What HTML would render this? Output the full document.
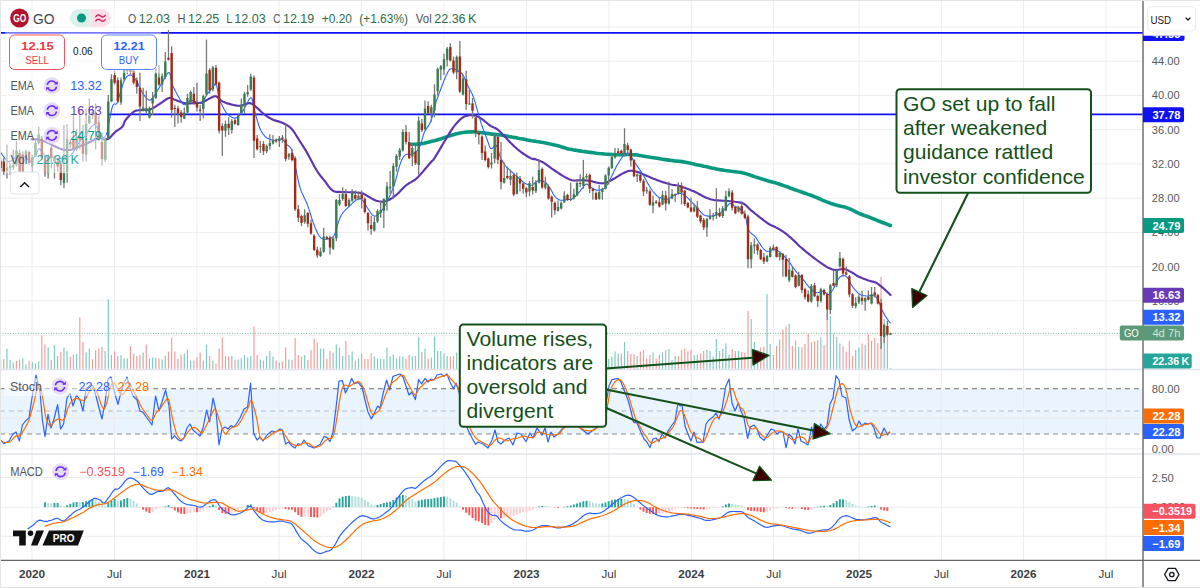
<!DOCTYPE html>
<html><head><meta charset="utf-8"><title>GO chart</title>
<style>html,body{margin:0;padding:0;background:#fff;}body{width:1200px;height:588px;overflow:hidden;font-family:"Liberation Sans",sans-serif;}svg{display:block}</style>
</head><body>
<svg width="1200" height="588" viewBox="0 0 1200 588" font-family="Liberation Sans, sans-serif">
<rect width="1200" height="588" fill="#ffffff"/>
<rect x="0" y="388.6" width="1143.0" height="45.39999999999998" fill="#e9f4fe"/>
<path d="M32.0 0V560.3 M114.4 0V560.3 M196.9 0V560.3 M279.1 0V560.3 M361.4 0V560.3 M443.9 0V560.3 M526.5 0V560.3 M609.0 0V560.3 M691.3 0V560.3 M773.7 0V560.3 M859.1 0V560.3 M941.4 0V560.3 M1023.6 0V560.3 M1106.0 0V560.3 M0 27.0H1143.0 M0 61.2H1143.0 M0 95.5H1143.0 M0 129.7H1143.0 M0 163.9H1143.0 M0 198.2H1143.0 M0 232.4H1143.0 M0 266.7H1143.0 M0 300.9H1143.0 M0 335.2H1143.0 M0 418.3H1143.0 M0 448.8H1143.0 M0 477.5H1143.0 M0 507.2H1143.0 M0 536.3H1143.0" stroke="#ececec" stroke-width="1" fill="none"/>
<path d="M0 369.5H1200M0 454H1200" stroke="#e0e3eb" stroke-width="1.6" fill="none"/>
<path d="M0 388.6H1143.0M0 434H1143.0" stroke="#8a8a8a" stroke-width="1.1" stroke-dasharray="5 4" fill="none"/>
<path d="M0 411H1143.0" stroke="#b5bcc6" stroke-width="1" stroke-dasharray="5 4" fill="none"/>
<path d="M0.62 368.8V359.0 M6.96 368.8V348.4 M10.12 368.8V360.0 M13.29 368.8V362.4 M22.79 368.8V358.4 M25.96 368.8V364.4 M32.29 368.8V362.0 M35.46 368.8V363.4 M38.63 368.8V361.4 M48.13 368.8V347.6 M54.46 368.8V345.2 M57.63 368.8V356.0 M63.96 368.8V347.6 M67.13 368.8V351.0 M76.63 368.8V354.0 M86.13 368.8V352.6 M89.30 368.8V348.4 M105.13 368.8V351.0 M108.30 368.8V299.2 M111.47 368.8V355.0 M120.97 368.8V355.0 M124.13 368.8V358.4 M127.30 368.8V358.4 M143.14 368.8V352.4 M149.47 368.8V358.4 M152.64 368.8V357.4 M155.81 368.8V358.0 M162.14 368.8V359.4 M165.31 368.8V356.0 M184.31 368.8V353.4 M187.47 368.8V349.4 M190.64 368.8V360.6 M203.31 368.8V360.6 M206.48 368.8V344.4 M212.81 368.8V360.6 M225.48 368.8V356.0 M231.81 368.8V356.0 M238.15 368.8V359.4 M241.31 368.8V358.4 M244.48 368.8V355.0 M247.65 368.8V357.4 M250.81 368.8V356.0 M260.32 368.8V359.4 M266.65 368.8V356.0 M269.82 368.8V351.0 M272.98 368.8V356.6 M279.32 368.8V362.4 M288.82 368.8V359.4 M304.65 368.8V355.0 M320.49 368.8V348.4 M323.66 368.8V348.4 M333.16 368.8V352.6 M336.32 368.8V344.4 M339.49 368.8V347.6 M342.66 368.8V356.0 M348.99 368.8V355.0 M352.16 368.8V351.6 M358.49 368.8V358.4 M374.33 368.8V356.6 M377.50 368.8V358.4 M380.66 368.8V359.0 M383.83 368.8V359.0 M387.00 368.8V347.6 M390.16 368.8V356.0 M393.33 368.8V354.4 M396.50 368.8V358.4 M399.66 368.8V356.6 M402.83 368.8V356.6 M412.33 368.8V356.6 M418.67 368.8V337.2 M425.00 368.8V348.4 M431.33 368.8V357.4 M434.50 368.8V336.4 M437.67 368.8V351.0 M440.83 368.8V351.0 M444.00 368.8V353.4 M447.17 368.8V356.0 M456.67 368.8V352.6 M463.00 368.8V355.4 M469.34 368.8V354.8 M491.51 368.8V350.8 M494.67 368.8V356.1 M504.18 368.8V354.4 M510.51 368.8V354.5 M516.84 368.8V355.6 M529.51 368.8V353.2 M535.84 368.8V357.8 M539.01 368.8V360.5 M545.35 368.8V356.1 M558.01 368.8V351.6 M561.18 368.8V356.9 M564.35 368.8V352.8 M570.68 368.8V351.4 M573.85 368.8V352.0 M577.02 368.8V359.8 M583.35 368.8V358.6 M586.52 368.8V351.1 M599.18 368.8V355.7 M602.35 368.8V356.9 M605.52 368.8V357.3 M608.69 368.8V359.0 M611.85 368.8V356.6 M615.02 368.8V351.6 M618.19 368.8V353.4 M624.52 368.8V342.0 M637.19 368.8V356.0 M653.02 368.8V352.6 M662.52 368.8V352.6 M668.86 368.8V349.0 M672.03 368.8V360.0 M675.19 368.8V356.0 M694.19 368.8V355.0 M697.36 368.8V354.4 M706.86 368.8V350.0 M710.03 368.8V351.0 M713.20 368.8V356.6 M716.36 368.8V339.0 M722.70 368.8V349.0 M725.86 368.8V343.4 M729.03 368.8V355.0 M738.53 368.8V351.0 M751.20 368.8V319.0 M754.37 368.8V342.0 M757.53 368.8V350.0 M767.04 368.8V294.0 M770.20 368.8V344.0 M779.70 368.8V339.4 M789.20 368.8V324.0 M798.71 368.8V346.8 M811.37 368.8V342.0 M820.87 368.8V337.2 M830.38 368.8V316.0 M836.71 368.8V337.2 M839.88 368.8V343.4 M855.71 368.8V350.0 M858.88 368.8V347.6 M865.21 368.8V345.2 M871.55 368.8V341.0 M884.21 368.8V319.0 M890.55 368.8V368.0" stroke="#80cbc4" stroke-width="1.2" fill="none"/>
<path d="M3.79 368.8V359.0 M16.46 368.8V361.0 M19.62 368.8V359.4 M29.12 368.8V361.0 M41.79 368.8V335.6 M44.96 368.8V344.4 M51.29 368.8V360.0 M60.80 368.8V352.0 M70.30 368.8V356.6 M73.46 368.8V354.4 M79.80 368.8V317.2 M82.96 368.8V342.0 M92.47 368.8V359.2 M95.63 368.8V350.0 M98.80 368.8V348.4 M101.97 368.8V347.0 M114.63 368.8V351.6 M117.80 368.8V356.0 M130.47 368.8V346.0 M133.64 368.8V353.4 M136.80 368.8V356.0 M139.97 368.8V355.0 M146.30 368.8V344.4 M158.97 368.8V358.4 M168.47 368.8V351.6 M171.64 368.8V337.6 M174.81 368.8V351.6 M177.97 368.8V359.0 M181.14 368.8V354.4 M193.81 368.8V360.6 M196.98 368.8V357.4 M200.14 368.8V352.4 M209.64 368.8V356.0 M215.98 368.8V363.4 M219.14 368.8V348.4 M222.31 368.8V337.6 M228.65 368.8V356.6 M234.98 368.8V360.0 M253.98 368.8V326.4 M257.15 368.8V355.0 M263.48 368.8V360.6 M276.15 368.8V360.6 M282.49 368.8V361.4 M285.65 368.8V347.6 M291.99 368.8V360.0 M295.15 368.8V338.0 M298.32 368.8V355.0 M301.49 368.8V356.6 M307.82 368.8V360.0 M310.99 368.8V350.0 M314.15 368.8V338.6 M317.32 368.8V342.6 M326.82 368.8V358.4 M329.99 368.8V351.0 M345.82 368.8V341.0 M355.33 368.8V360.6 M361.66 368.8V353.4 M364.83 368.8V359.0 M367.99 368.8V359.0 M371.16 368.8V353.4 M406.00 368.8V359.0 M409.17 368.8V355.0 M415.50 368.8V356.0 M421.83 368.8V352.0 M428.17 368.8V358.4 M450.34 368.8V356.6 M453.50 368.8V356.0 M459.84 368.8V358.4 M466.17 368.8V357.1 M472.50 368.8V354.5 M475.67 368.8V360.1 M478.84 368.8V360.7 M482.01 368.8V352.4 M485.17 368.8V358.2 M488.34 368.8V358.5 M497.84 368.8V352.4 M501.01 368.8V356.0 M507.34 368.8V359.3 M513.68 368.8V352.1 M520.01 368.8V353.4 M523.18 368.8V354.1 M526.34 368.8V360.2 M532.68 368.8V354.9 M542.18 368.8V352.1 M548.51 368.8V353.6 M551.68 368.8V352.0 M554.85 368.8V353.7 M567.51 368.8V356.4 M580.18 368.8V359.4 M589.68 368.8V356.4 M592.85 368.8V354.5 M596.02 368.8V357.8 M621.35 368.8V353.4 M627.69 368.8V351.0 M630.85 368.8V354.0 M634.02 368.8V354.0 M640.36 368.8V351.6 M643.52 368.8V350.0 M646.69 368.8V358.4 M649.86 368.8V355.0 M656.19 368.8V358.4 M659.36 368.8V354.4 M665.69 368.8V350.0 M678.36 368.8V356.0 M681.53 368.8V350.0 M684.69 368.8V348.4 M687.86 368.8V351.6 M691.03 368.8V350.0 M700.53 368.8V353.4 M703.70 368.8V351.0 M719.53 368.8V351.0 M732.20 368.8V349.0 M735.37 368.8V351.0 M741.70 368.8V352.0 M744.87 368.8V352.6 M748.03 368.8V311.0 M760.70 368.8V347.6 M763.87 368.8V346.8 M773.37 368.8V355.0 M776.54 368.8V346.0 M782.87 368.8V329.6 M786.04 368.8V326.4 M792.37 368.8V346.0 M795.54 368.8V340.4 M801.87 368.8V347.6 M805.04 368.8V344.0 M808.21 368.8V334.0 M814.54 368.8V341.0 M817.71 368.8V340.0 M824.04 368.8V345.2 M827.21 368.8V320.0 M833.54 368.8V333.6 M843.04 368.8V346.0 M846.21 368.8V351.6 M849.38 368.8V341.0 M852.54 368.8V356.0 M862.05 368.8V343.4 M868.38 368.8V334.4 M874.71 368.8V338.0 M877.88 368.8V343.0 M881.05 368.8V277.0 M887.38 368.8V331.0" stroke="#f49d9b" stroke-width="1.2" fill="none"/>
<path d="M0 333.4H1143.0" stroke="#7fb896" stroke-width="1" stroke-dasharray="1 1.55" fill="none"/>
<path d="M0 32.9H1143.0" stroke="#1010f5" stroke-width="1.9" fill="none"/>
<path d="M108 114.3H1143.0" stroke="#1010f5" stroke-width="1.7" fill="none"/>
<path d="M411.5 144.3 L412.5 144.2 L413.9 144.2 L415.5 144.2 L417.3 144.1 L419.1 144.0 L420.8 143.8 L422.5 143.5 L424.2 143.2 L425.9 142.8 L427.6 142.4 L429.3 142.0 L431.0 141.6 L432.7 141.1 L434.4 140.7 L436.1 140.2 L437.8 139.7 L439.5 139.2 L441.2 138.7 L442.9 138.1 L444.6 137.5 L446.3 137.0 L448.0 136.4 L449.7 135.8 L451.4 135.3 L453.1 134.8 L454.8 134.3 L456.5 133.8 L458.2 133.4 L459.9 133.0 L461.6 132.7 L463.3 132.5 L465.0 132.2 L466.7 132.1 L468.4 132.0 L470.1 131.9 L471.8 131.9 L473.5 131.9 L475.2 132.0 L476.9 132.2 L478.6 132.3 L480.3 132.5 L482.0 132.7 L483.7 132.9 L485.4 133.1 L487.1 133.4 L488.8 133.6 L490.5 133.9 L492.2 134.1 L493.9 134.3 L495.5 134.4 L497.1 134.6 L498.8 134.8 L500.6 135.0 L502.4 135.3 L504.5 135.6 L506.7 136.0 L509.0 136.5 L511.4 136.9 L513.7 137.4 L516.1 137.8 L518.3 138.3 L520.6 138.7 L522.9 139.1 L525.1 139.5 L527.4 140.0 L529.7 140.4 L531.9 140.8 L534.2 141.1 L536.5 141.5 L538.7 141.8 L541.0 142.2 L543.3 142.6 L545.6 143.0 L547.9 143.5 L550.2 144.0 L552.5 144.4 L554.7 145.0 L556.9 145.5 L558.9 146.0 L560.8 146.6 L562.7 147.2 L564.5 147.8 L566.4 148.4 L568.4 148.9 L570.5 149.3 L572.7 149.8 L574.9 150.1 L577.2 150.5 L579.6 150.9 L582.0 151.3 L584.7 151.6 L587.5 152.0 L590.3 152.4 L593.3 152.8 L596.2 153.2 L599.0 153.5 L601.9 153.7 L604.7 154.0 L607.6 154.2 L610.4 154.4 L613.2 154.5 L616.1 154.7 L618.9 154.7 L621.7 154.7 L624.6 154.6 L627.4 154.5 L630.2 154.5 L633.1 154.7 L635.8 154.9 L638.6 155.3 L641.3 155.7 L644.0 156.2 L647.0 156.7 L650.1 157.2 L653.5 157.7 L657.4 158.3 L661.3 159.0 L665.2 159.6 L668.8 160.1 L671.9 160.5 L674.5 160.9 L676.6 161.1 L678.5 161.3 L680.2 161.4 L681.9 161.6 L683.8 161.9 L685.8 162.3 L687.8 162.7 L689.8 163.1 L691.7 163.6 L693.7 164.0 L695.7 164.5 L697.7 164.9 L699.7 165.3 L701.7 165.7 L703.7 166.2 L705.6 166.6 L707.6 167.0 L709.6 167.4 L711.6 167.9 L713.6 168.3 L715.6 168.8 L717.5 169.2 L719.5 169.6 L721.5 169.9 L723.5 170.2 L725.5 170.5 L727.5 170.7 L729.4 171.0 L731.4 171.3 L733.4 171.5 L735.4 171.7 L737.4 172.0 L739.4 172.2 L741.3 172.5 L743.3 173.0 L745.3 173.5 L747.3 174.1 L749.3 174.8 L751.3 175.5 L753.3 176.2 L755.2 176.9 L757.2 177.5 L759.2 178.1 L761.2 178.8 L763.2 179.4 L765.2 180.0 L767.1 180.6 L769.1 181.2 L771.1 181.7 L773.1 182.3 L775.1 182.8 L777.1 183.4 L779.0 184.0 L781.0 184.7 L783.0 185.4 L785.0 186.1 L787.0 186.8 L789.0 187.5 L791.0 188.3 L792.9 189.0 L794.9 189.7 L796.9 190.4 L798.9 191.1 L800.9 191.8 L802.9 192.5 L804.8 193.2 L806.8 193.9 L808.8 194.6 L810.8 195.3 L812.8 196.0 L814.8 196.8 L816.8 197.6 L818.8 198.5 L820.8 199.4 L822.8 200.3 L824.8 201.1 L826.7 201.9 L828.5 202.5 L830.2 203.2 L831.9 203.7 L833.5 204.3 L835.2 204.8 L836.9 205.3 L838.5 205.7 L840.2 206.1 L841.8 206.4 L843.5 206.8 L845.2 207.2 L847.1 207.8 L849.1 208.6 L851.3 209.6 L853.6 210.7 L855.8 211.8 L858.0 212.9 L860.0 213.8 L861.8 214.5 L863.6 215.2 L865.2 215.8 L866.8 216.3 L868.4 216.9 L870.0 217.5 L871.7 218.2 L873.3 218.8 L875.0 219.5 L876.6 220.2 L878.3 220.8 L880.0 221.5 L881.8 222.2 L883.9 223.0 L885.9 223.8 L887.8 224.5 L889.4 225.1 L890.5 225.5" stroke="#089981" stroke-width="3.6" fill="none" stroke-linejoin="round" stroke-linecap="round"/>
<path d="M31.5 139.3 L32.3 139.3 L33.4 139.3 L34.8 139.3 L36.2 139.3 L37.7 139.4 L39.1 139.7 L40.5 140.0 L41.9 140.4 L43.3 140.9 L44.8 141.5 L46.2 142.1 L47.6 142.7 L49.0 143.4 L50.5 144.1 L51.9 144.9 L53.3 145.6 L54.7 146.3 L56.1 147.0 L57.5 147.6 L59.0 148.2 L60.4 148.7 L61.8 149.2 L63.2 149.6 L64.6 149.9 L66.1 150.0 L67.5 150.0 L69.0 149.9 L70.4 149.7 L71.8 149.5 L73.1 149.2 L74.4 148.8 L75.6 148.3 L76.7 147.7 L77.9 147.1 L78.9 146.6 L79.9 146.1 L80.9 145.8 L81.7 145.5 L82.5 145.3 L83.3 145.1 L84.1 144.8 L85.0 144.4 L86.1 144.0 L87.2 143.4 L88.3 142.8 L89.5 142.2 L90.7 141.6 L91.8 141.0 L93.0 140.4 L94.2 139.7 L95.3 139.0 L96.5 138.4 L97.6 137.9 L98.6 137.6 L99.6 137.6 L100.5 137.9 L101.3 138.3 L102.1 138.8 L102.9 139.1 L103.7 139.3 L104.6 139.4 L105.4 139.4 L106.2 139.4 L107.0 139.3 L107.9 139.0 L108.8 138.5 L109.9 137.7 L111.0 136.6 L112.1 135.3 L113.3 134.0 L114.5 132.8 L115.6 131.7 L116.8 130.7 L118.1 129.9 L119.3 129.1 L120.5 128.3 L121.5 127.5 L122.4 126.6 L123.1 125.6 L123.5 124.6 L123.9 123.6 L124.2 122.5 L124.7 121.3 L125.5 120.1 L126.6 118.8 L127.9 117.2 L129.4 115.6 L131.0 114.0 L132.5 112.7 L134.0 111.6 L135.4 110.9 L136.8 110.5 L138.3 110.3 L139.7 110.2 L141.1 110.1 L142.5 109.9 L143.9 109.8 L145.4 109.7 L146.8 109.7 L148.2 109.6 L149.6 109.5 L151.0 109.1 L152.4 108.5 L153.8 107.7 L155.2 106.8 L156.6 105.9 L158.1 104.9 L159.5 104.0 L161.1 102.9 L162.7 101.8 L164.4 100.6 L166.0 99.5 L167.5 98.6 L168.9 98.0 L170.0 97.8 L171.0 98.0 L171.8 98.3 L172.7 98.8 L173.6 99.3 L174.8 99.7 L176.3 100.2 L177.9 100.9 L179.7 101.5 L181.5 102.2 L183.3 102.7 L185.0 103.1 L186.8 103.3 L188.6 103.4 L190.3 103.4 L192.1 103.3 L193.7 103.2 L195.2 103.1 L196.5 103.1 L197.7 103.0 L198.7 103.0 L199.8 102.8 L200.8 102.6 L202.0 102.3 L203.4 101.7 L204.9 101.0 L206.4 100.2 L207.9 99.4 L209.3 98.6 L210.5 98.0 L211.6 97.5 L212.6 97.0 L213.5 96.6 L214.3 96.3 L215.2 96.2 L216.2 96.3 L217.1 96.8 L218.1 97.6 L219.0 98.6 L220.0 99.6 L221.2 100.6 L222.4 101.4 L223.9 102.1 L225.6 102.8 L227.4 103.4 L229.2 103.9 L231.0 104.4 L232.7 104.8 L234.2 105.2 L235.6 105.4 L237.0 105.6 L238.4 105.7 L239.8 105.8 L241.2 105.7 L242.6 105.4 L244.1 104.8 L245.5 104.2 L247.0 103.6 L248.4 103.2 L249.7 103.1 L250.8 103.4 L251.9 103.8 L252.9 104.4 L253.9 105.2 L255.0 106.1 L256.1 107.0 L257.4 108.1 L258.8 109.4 L260.2 110.8 L261.7 112.2 L263.2 113.5 L264.6 114.7 L266.0 115.7 L267.4 116.6 L268.8 117.5 L270.2 118.3 L271.6 119.0 L273.1 119.8 L274.8 120.4 L276.5 120.9 L278.2 121.4 L280.0 121.9 L281.7 122.5 L283.3 123.2 L284.9 124.0 L286.4 124.8 L287.8 125.7 L289.2 126.7 L290.5 127.8 L291.8 129.1 L293.0 130.5 L294.2 132.1 L295.2 133.7 L296.3 135.5 L297.4 137.4 L298.6 139.3 L299.9 141.3 L301.3 143.5 L302.7 145.7 L304.2 148.0 L305.7 150.4 L307.1 152.9 L308.7 155.7 L310.3 158.7 L311.9 161.8 L313.5 164.8 L315.1 167.7 L316.6 170.2 L317.9 172.3 L319.2 174.1 L320.4 175.7 L321.7 177.3 L322.9 178.8 L324.2 180.4 L325.6 182.2 L327.0 184.1 L328.4 186.1 L329.9 187.9 L331.3 189.4 L332.7 190.6 L334.1 191.4 L335.5 191.8 L336.9 191.9 L338.3 191.9 L339.7 191.9 L341.2 192.0 L342.8 192.1 L344.5 192.1 L346.2 192.2 L348.0 192.2 L349.7 192.2 L351.4 192.3 L353.2 192.4 L355.0 192.5 L356.7 192.5 L358.5 192.7 L360.1 192.9 L361.6 193.2 L363.0 193.6 L364.2 194.1 L365.2 194.7 L366.3 195.3 L367.3 195.9 L368.4 196.6 L369.6 197.2 L370.7 197.9 L371.8 198.6 L373.0 199.2 L374.1 199.8 L375.2 200.3 L376.4 200.7 L377.5 201.0 L378.6 201.3 L379.8 201.5 L380.9 201.6 L382.0 201.7 L383.2 201.6 L384.2 201.5 L385.3 201.3 L386.4 201.0 L387.6 200.5 L388.8 200.0 L390.2 199.2 L391.6 198.4 L393.0 197.4 L394.4 196.3 L395.9 195.2 L397.3 194.0 L398.8 192.7 L400.1 191.3 L401.5 189.8 L403.0 188.3 L404.4 186.8 L405.9 185.5 L407.4 184.4 L409.0 183.3 L410.7 182.4 L412.3 181.4 L413.8 180.5 L415.2 179.6 L416.3 178.6 L417.3 177.8 L418.1 177.0 L419.0 176.0 L420.0 174.9 L421.2 173.6 L422.7 171.9 L424.5 169.8 L426.4 167.5 L428.3 165.3 L430.0 163.3 L431.4 161.7 L432.2 160.8 L432.6 160.4 L432.9 160.3 L433.1 160.1 L433.6 159.5 L434.4 158.2 L435.7 156.1 L437.4 153.4 L439.2 150.4 L441.1 147.1 L442.9 144.0 L444.6 141.2 L446.1 138.7 L447.6 136.3 L449.0 133.9 L450.4 131.7 L451.7 129.6 L453.1 127.6 L454.6 125.7 L456.0 123.9 L457.5 122.3 L458.9 120.7 L460.3 119.4 L461.6 118.3 L462.9 117.4 L464.0 116.7 L465.1 116.2 L466.2 115.9 L467.3 115.6 L468.4 115.4 L469.6 115.2 L470.7 115.1 L471.8 115.2 L473.0 115.3 L474.1 115.4 L475.2 115.7 L476.4 116.1 L477.4 116.5 L478.5 117.0 L479.6 117.6 L480.8 118.3 L482.0 119.1 L483.4 120.1 L484.8 121.3 L486.3 122.5 L487.8 123.8 L489.2 124.9 L490.5 125.9 L491.8 126.6 L492.9 127.1 L493.9 127.5 L495.0 127.9 L496.1 128.5 L497.3 129.3 L498.6 130.4 L500.0 131.7 L501.4 133.1 L502.8 134.7 L504.3 136.2 L505.9 137.8 L507.5 139.5 L509.1 141.2 L510.8 143.0 L512.6 144.8 L514.3 146.5 L516.1 148.0 L517.8 149.5 L519.6 150.9 L521.4 152.3 L523.1 153.5 L524.8 154.7 L526.3 155.7 L527.7 156.5 L529.0 157.3 L530.2 157.9 L531.3 158.4 L532.3 158.8 L533.1 159.1 L533.5 159.2 L533.7 159.2 L533.6 159.0 L533.6 158.8 L533.8 158.8 L534.4 158.9 L535.4 159.2 L536.7 159.7 L538.2 160.2 L539.8 160.9 L541.4 161.6 L542.9 162.3 L544.3 163.1 L545.7 164.1 L547.1 165.1 L548.5 166.1 L549.9 167.2 L551.4 168.3 L553.0 169.4 L554.7 170.5 L556.4 171.7 L558.2 172.9 L559.9 174.0 L561.6 175.1 L563.3 176.1 L565.0 177.1 L566.7 178.0 L568.4 178.9 L570.1 179.6 L571.8 180.2 L573.6 180.5 L575.3 180.5 L577.0 180.4 L578.8 180.3 L580.4 180.2 L582.0 180.2 L583.6 180.2 L585.0 180.3 L586.4 180.5 L587.8 180.6 L589.1 180.8 L590.5 181.0 L592.0 181.3 L593.4 181.7 L594.9 182.1 L596.3 182.5 L597.7 182.8 L599.0 183.1 L600.3 183.2 L601.4 183.3 L602.4 183.3 L603.5 183.2 L604.6 183.0 L605.9 182.7 L607.2 182.2 L608.6 181.6 L610.0 180.9 L611.5 180.1 L612.9 179.3 L614.4 178.5 L615.8 177.6 L617.3 176.7 L618.7 175.8 L620.1 174.9 L621.5 174.1 L622.9 173.4 L624.1 172.8 L625.3 172.2 L626.4 171.7 L627.5 171.3 L628.5 171.0 L629.7 170.8 L630.8 170.7 L631.9 170.8 L633.0 170.9 L634.1 171.1 L635.2 171.3 L636.5 171.7 L637.8 172.1 L639.1 172.6 L640.5 173.2 L641.9 173.8 L643.4 174.4 L645.0 175.1 L646.6 175.7 L648.3 176.5 L650.1 177.2 L651.8 178.0 L653.5 178.7 L655.2 179.3 L656.7 179.9 L658.1 180.5 L659.5 181.0 L660.9 181.5 L662.3 181.9 L663.7 182.4 L665.1 182.8 L666.6 183.3 L668.0 183.7 L669.5 184.1 L670.9 184.5 L672.2 184.8 L673.4 185.0 L674.4 185.1 L675.4 185.2 L676.5 185.3 L677.5 185.5 L678.7 185.7 L680.0 186.1 L681.4 186.6 L682.8 187.1 L684.3 187.7 L685.8 188.2 L687.2 188.8 L688.6 189.3 L690.0 189.8 L691.5 190.4 L692.9 190.9 L694.3 191.5 L695.7 192.2 L697.1 192.9 L698.5 193.7 L700.0 194.5 L701.4 195.3 L702.8 196.1 L704.2 196.8 L705.6 197.4 L707.0 198.0 L708.4 198.5 L709.8 199.0 L711.2 199.5 L712.7 199.8 L714.3 200.1 L716.0 200.3 L717.7 200.4 L719.5 200.5 L721.2 200.6 L722.9 200.7 L724.6 200.8 L726.3 200.9 L728.0 201.0 L729.7 201.2 L731.4 201.3 L733.1 201.5 L734.9 201.8 L736.7 202.0 L738.4 202.2 L740.2 202.6 L741.8 203.0 L743.3 203.6 L744.6 204.3 L745.8 205.2 L746.8 206.2 L747.9 207.3 L748.9 208.4 L750.1 209.5 L751.4 210.6 L752.8 211.7 L754.2 212.8 L755.6 214.0 L757.1 215.1 L758.6 216.3 L760.2 217.6 L761.9 218.9 L763.6 220.3 L765.4 221.6 L767.1 222.8 L768.8 224.0 L770.6 225.0 L772.3 225.8 L774.1 226.6 L775.8 227.4 L777.4 228.2 L779.0 229.1 L780.6 230.0 L782.0 230.9 L783.4 231.9 L784.8 232.9 L786.2 233.9 L787.6 235.0 L789.0 236.3 L790.6 237.6 L792.1 239.0 L793.6 240.4 L794.9 241.6 L796.1 242.7 L796.8 243.4 L797.3 244.0 L797.7 244.4 L798.1 244.8 L798.6 245.3 L799.5 246.2 L800.8 247.3 L802.4 248.6 L804.2 250.1 L806.1 251.7 L807.9 253.2 L809.7 254.7 L811.4 256.0 L813.2 257.4 L814.9 258.7 L816.7 260.0 L818.3 261.2 L819.9 262.3 L821.5 263.4 L823.0 264.4 L824.4 265.4 L825.8 266.3 L827.1 267.1 L828.4 267.8 L829.6 268.3 L830.8 268.8 L831.8 269.3 L832.9 269.6 L834.0 269.8 L835.2 270.0 L836.6 270.0 L838.0 269.8 L839.5 269.5 L841.0 269.3 L842.4 269.1 L843.7 269.1 L845.0 269.3 L846.1 269.6 L847.1 270.0 L848.2 270.5 L849.3 271.1 L850.5 271.7 L851.8 272.4 L853.2 273.2 L854.6 274.1 L856.0 275.1 L857.5 276.0 L859.0 276.8 L860.7 277.5 L862.4 278.2 L864.3 278.9 L866.0 279.6 L867.7 280.2 L869.3 280.7 L870.6 281.1 L871.8 281.4 L872.9 281.6 L873.9 281.9 L875.0 282.2 L876.1 282.7 L877.2 283.4 L878.3 284.1 L879.4 285.0 L880.5 285.9 L881.7 286.8 L882.9 287.8 L884.2 289.0 L885.6 290.3 L887.1 291.7 L888.5 293.0 L889.7 294.2 L890.5 295.0" stroke="#5e35b1" stroke-width="2.15" fill="none" stroke-linejoin="round" stroke-linecap="round"/>
<path d="M0.0 151.2 L0.4 151.8 L0.9 152.6 L1.5 153.5 L2.1 154.5 L2.8 155.5 L3.4 156.3 L4.0 157.1 L4.5 157.9 L5.1 158.7 L5.7 159.4 L6.2 160.1 L6.8 160.6 L7.3 161.0 L7.9 161.3 L8.4 161.5 L8.9 161.6 L9.5 161.6 L10.2 161.4 L11.0 161.1 L11.8 160.5 L12.6 159.9 L13.5 159.2 L14.4 158.5 L15.3 158.0 L16.2 157.6 L17.0 157.2 L17.9 156.9 L18.7 156.6 L19.6 156.4 L20.4 156.3 L21.3 156.3 L22.1 156.3 L23.0 156.4 L23.8 156.5 L24.7 156.8 L25.5 157.2 L26.4 157.8 L27.2 158.8 L28.1 159.8 L28.9 160.7 L29.8 161.3 L30.6 161.4 L31.5 160.9 L32.4 159.9 L33.3 158.7 L34.1 157.2 L35.0 155.8 L35.7 154.6 L36.4 153.5 L37.0 152.2 L37.5 151.0 L38.0 149.9 L38.6 149.1 L39.1 148.7 L39.7 148.8 L40.2 149.3 L40.7 150.1 L41.3 151.1 L41.9 152.0 L42.5 152.9 L43.3 153.8 L44.1 154.8 L45.0 155.8 L45.9 156.7 L46.7 157.5 L47.6 158.0 L48.5 158.2 L49.3 158.1 L50.2 157.8 L51.0 157.5 L51.9 157.2 L52.7 157.2 L53.6 157.3 L54.4 157.6 L55.3 158.0 L56.1 158.4 L57.0 158.7 L57.8 158.9 L58.7 158.9 L59.5 158.8 L60.4 158.6 L61.2 158.4 L62.1 158.2 L62.9 158.0 L63.8 157.9 L64.7 157.8 L65.6 157.7 L66.5 157.6 L67.3 157.4 L68.0 157.2 L68.7 156.9 L69.3 156.5 L69.8 156.2 L70.4 155.7 L70.9 155.2 L71.4 154.6 L72.0 154.0 L72.5 153.2 L73.0 152.4 L73.6 151.6 L74.2 150.6 L74.8 149.5 L75.6 148.3 L76.4 146.8 L77.3 145.3 L78.2 143.7 L79.1 142.3 L79.9 141.0 L80.8 140.0 L81.6 139.2 L82.5 138.4 L83.3 137.7 L84.2 136.9 L85.0 135.9 L85.9 134.7 L86.7 133.4 L87.6 132.0 L88.4 130.6 L89.3 129.3 L90.1 128.3 L91.0 127.3 L91.8 126.3 L92.7 125.5 L93.5 124.9 L94.4 124.6 L95.2 124.9 L96.1 125.8 L97.0 127.3 L97.9 129.1 L98.8 131.1 L99.6 132.9 L100.3 134.2 L101.0 135.2 L101.6 136.1 L102.1 136.8 L102.7 137.3 L103.2 137.6 L103.7 137.6 L104.3 137.3 L105.0 136.6 L105.6 135.7 L106.2 134.7 L106.7 133.6 L107.1 132.5 L107.5 131.6 L107.6 130.7 L107.8 129.8 L107.9 128.7 L108.1 127.2 L108.5 125.2 L109.0 122.5 L109.7 119.0 L110.4 115.2 L111.2 111.4 L112.0 108.1 L112.8 105.7 L113.5 104.4 L114.2 104.0 L114.9 104.0 L115.6 104.2 L116.3 104.0 L117.0 103.1 L117.7 101.5 L118.4 99.3 L119.1 96.9 L119.8 94.3 L120.5 91.8 L121.3 89.5 L122.0 87.4 L122.6 85.4 L123.3 83.4 L124.0 81.5 L124.8 79.8 L125.5 78.5 L126.3 77.4 L127.1 76.4 L128.0 75.7 L128.8 75.2 L129.7 75.0 L130.6 75.1 L131.6 75.4 L132.5 76.1 L133.5 77.1 L134.5 78.2 L135.6 79.6 L136.6 81.0 L137.6 82.7 L138.5 84.7 L139.5 86.9 L140.5 89.1 L141.5 91.2 L142.5 92.9 L143.5 94.4 L144.6 95.9 L145.7 97.1 L146.7 98.2 L147.6 99.1 L148.5 99.7 L149.2 100.1 L149.8 100.2 L150.3 100.1 L150.8 99.8 L151.3 99.4 L151.9 98.9 L152.5 98.2 L153.2 97.4 L153.8 96.5 L154.5 95.4 L155.3 94.2 L156.1 92.9 L157.0 91.5 L157.9 89.8 L158.9 88.1 L160.0 86.3 L161.0 84.5 L162.1 82.7 L163.2 80.8 L164.4 78.5 L165.6 76.2 L166.8 74.3 L167.9 72.9 L168.9 72.5 L169.6 73.2 L170.2 74.8 L170.6 77.1 L171.1 79.6 L171.6 82.2 L172.3 84.4 L173.1 86.4 L174.1 88.5 L175.1 90.6 L176.2 92.6 L177.2 94.5 L178.2 96.3 L179.2 98.1 L180.2 99.9 L181.2 101.6 L182.2 103.1 L183.2 104.2 L184.2 104.8 L185.2 104.8 L186.2 104.2 L187.2 103.2 L188.2 102.1 L189.2 101.1 L190.1 100.6 L191.0 100.4 L191.8 100.5 L192.6 100.6 L193.4 100.9 L194.3 101.2 L195.2 101.4 L196.3 101.8 L197.5 102.3 L198.7 102.8 L199.9 103.2 L201.0 103.4 L202.0 103.1 L202.9 102.4 L203.6 101.3 L204.2 99.9 L204.8 98.4 L205.5 96.9 L206.3 95.5 L207.2 94.2 L208.2 92.8 L209.3 91.4 L210.3 90.1 L211.4 88.9 L212.2 87.8 L213.0 86.8 L213.7 85.7 L214.4 84.8 L215.0 84.1 L215.6 84.0 L216.2 84.4 L216.7 85.8 L217.2 87.9 L217.7 90.6 L218.1 93.3 L218.6 95.9 L219.0 98.0 L219.5 99.6 L220.0 100.9 L220.4 102.0 L220.9 103.0 L221.5 104.1 L222.1 105.3 L222.8 106.7 L223.6 108.2 L224.4 109.7 L225.3 111.2 L226.2 112.6 L227.2 113.8 L228.3 114.8 L229.4 115.8 L230.6 116.6 L231.8 117.3 L233.0 117.8 L234.0 118.1 L235.0 118.1 L235.8 117.9 L236.7 117.5 L237.5 116.9 L238.3 116.3 L239.1 115.5 L239.9 114.7 L240.8 113.7 L241.6 112.6 L242.4 111.4 L243.3 110.1 L244.2 108.7 L245.3 106.8 L246.5 104.5 L247.7 102.0 L248.9 99.7 L250.1 98.2 L251.0 97.7 L251.8 98.4 L252.3 100.0 L252.8 102.3 L253.3 105.0 L253.8 107.8 L254.4 110.4 L255.2 113.1 L256.0 116.1 L256.9 119.2 L257.8 122.2 L258.7 125.0 L259.5 127.4 L260.4 129.4 L261.2 131.1 L262.1 132.5 L262.9 133.8 L263.8 134.9 L264.6 135.9 L265.5 136.8 L266.3 137.5 L267.2 138.1 L268.0 138.6 L268.9 139.0 L269.7 139.3 L270.6 139.6 L271.4 139.9 L272.2 140.0 L273.0 140.1 L273.9 140.2 L274.8 140.2 L275.9 140.1 L277.0 139.8 L278.2 139.5 L279.4 139.2 L280.6 139.1 L281.6 139.3 L282.6 139.8 L283.5 140.5 L284.3 141.4 L285.1 142.4 L285.9 143.5 L286.7 144.4 L287.6 145.2 L288.5 145.8 L289.3 146.5 L290.2 147.3 L291.0 148.6 L291.8 150.4 L292.6 152.9 L293.3 156.0 L294.0 159.5 L294.8 163.2 L295.4 166.8 L296.2 170.2 L296.8 173.4 L297.5 176.6 L298.1 179.8 L298.8 183.0 L299.6 186.0 L300.4 188.9 L301.4 191.6 L302.5 194.1 L303.7 196.5 L304.8 198.9 L306.0 201.4 L307.2 204.2 L308.3 207.4 L309.5 210.9 L310.6 214.5 L311.7 218.2 L312.9 221.6 L314.0 224.6 L315.1 227.4 L316.2 230.0 L317.3 232.5 L318.4 234.7 L319.6 236.5 L320.8 237.9 L322.2 238.8 L323.7 239.2 L325.2 239.3 L326.7 239.1 L328.1 238.9 L329.3 238.6 L330.4 238.3 L331.3 238.0 L332.1 237.6 L332.9 237.0 L333.7 236.1 L334.4 234.8 L335.2 233.1 L335.9 230.8 L336.6 228.3 L337.3 225.7 L338.0 223.3 L338.7 221.2 L339.4 219.5 L340.0 217.9 L340.6 216.5 L341.3 215.2 L342.1 214.0 L342.9 212.7 L343.9 211.5 L345.0 210.3 L346.2 209.2 L347.4 208.1 L348.6 207.0 L349.7 205.9 L350.9 204.8 L352.1 203.7 L353.2 202.5 L354.4 201.5 L355.5 200.6 L356.5 200.0 L357.5 199.5 L358.4 199.1 L359.2 198.9 L360.0 198.8 L360.8 199.0 L361.6 199.5 L362.5 200.2 L363.3 201.3 L364.1 202.5 L365.0 204.0 L365.8 205.4 L366.7 206.8 L367.7 208.2 L368.7 209.8 L369.8 211.5 L370.8 213.0 L371.8 214.3 L372.7 215.3 L373.5 215.8 L374.2 216.1 L374.9 216.1 L375.5 216.0 L376.2 215.7 L376.9 215.3 L377.7 214.8 L378.6 214.1 L379.4 213.3 L380.3 212.3 L381.2 211.3 L382.0 210.2 L382.9 209.0 L383.7 207.9 L384.5 206.6 L385.3 205.2 L386.2 203.6 L387.1 201.7 L388.2 199.5 L389.3 197.1 L390.5 194.4 L391.6 191.6 L392.8 188.6 L393.9 185.5 L395.1 182.0 L396.2 178.1 L397.3 173.9 L398.4 169.9 L399.4 166.3 L400.4 163.3 L401.3 161.0 L402.1 159.2 L402.9 157.7 L403.7 156.6 L404.6 155.6 L405.5 154.8 L406.5 154.3 L407.7 154.2 L408.8 154.2 L410.0 154.4 L411.2 154.3 L412.3 154.0 L413.5 153.4 L414.6 152.7 L415.8 151.9 L417.0 150.9 L418.1 149.6 L419.1 148.0 L420.0 146.0 L420.9 143.5 L421.7 140.7 L422.5 137.9 L423.3 135.2 L424.2 132.7 L425.3 130.6 L426.4 128.7 L427.6 126.9 L428.8 125.1 L430.0 123.1 L431.0 120.8 L431.9 118.2 L432.7 115.4 L433.4 112.4 L434.1 109.3 L434.8 106.2 L435.7 103.1 L436.7 100.0 L437.9 96.7 L439.1 93.4 L440.3 90.2 L441.5 87.2 L442.5 84.4 L443.5 81.9 L444.4 79.6 L445.3 77.5 L446.1 75.6 L446.9 73.9 L447.6 72.5 L448.2 71.4 L448.8 70.5 L449.2 69.8 L449.7 69.3 L450.3 69.0 L451.0 68.8 L452.0 68.8 L453.1 68.9 L454.3 69.3 L455.6 69.8 L456.7 70.3 L457.8 70.8 L458.8 71.3 L459.6 71.8 L460.5 72.4 L461.3 73.1 L462.1 73.9 L462.9 75.1 L463.8 76.5 L464.6 78.3 L465.5 80.2 L466.3 82.2 L467.2 84.3 L468.0 86.1 L468.9 87.8 L469.7 89.3 L470.6 90.9 L471.4 92.5 L472.3 94.2 L473.1 96.3 L474.0 98.8 L474.9 101.7 L475.8 104.7 L476.6 107.7 L477.5 110.7 L478.2 113.3 L478.9 115.7 L479.5 117.8 L480.1 119.8 L480.7 121.8 L481.3 123.8 L482.0 125.9 L482.8 128.2 L483.7 130.5 L484.6 132.9 L485.5 135.3 L486.3 137.5 L487.1 139.5 L487.8 141.5 L488.5 143.4 L489.1 145.2 L489.7 146.7 L490.3 148.0 L491.1 148.7 L491.8 148.7 L492.7 147.9 L493.6 146.8 L494.5 145.8 L495.3 145.1 L496.2 145.3 L496.9 146.4 L497.6 148.3 L498.3 150.5 L499.0 152.9 L499.7 155.2 L500.4 157.2 L501.2 158.9 L502.0 160.4 L502.9 161.9 L503.8 163.3 L504.7 164.5 L505.5 165.7 L506.3 166.8 L507.1 167.6 L508.0 168.4 L508.8 169.2 L509.7 170.0 L510.6 170.8 L511.6 171.8 L512.8 172.7 L513.9 173.7 L515.1 174.8 L516.3 175.8 L517.4 176.8 L518.5 177.8 L519.7 178.9 L520.8 180.0 L522.0 181.0 L523.1 181.9 L524.2 182.7 L525.4 183.4 L526.5 184.1 L527.6 184.6 L528.8 185.1 L529.9 185.3 L531.0 185.3 L532.2 184.9 L533.3 184.2 L534.4 183.3 L535.6 182.3 L536.7 181.5 L537.8 181.0 L539.0 180.8 L540.2 180.7 L541.3 180.8 L542.5 181.0 L543.6 181.4 L544.6 181.9 L545.6 182.5 L546.5 183.4 L547.3 184.4 L548.1 185.5 L548.9 186.6 L549.7 187.8 L550.6 189.1 L551.4 190.6 L552.3 192.2 L553.1 193.8 L554.0 195.2 L554.8 196.3 L555.7 197.3 L556.5 198.1 L557.4 198.8 L558.2 199.3 L559.1 199.7 L559.9 200.1 L560.8 200.3 L561.6 200.3 L562.4 200.2 L563.2 200.0 L564.1 199.9 L565.0 199.7 L566.1 199.7 L567.2 199.6 L568.4 199.5 L569.6 199.4 L570.8 199.2 L571.8 198.9 L572.8 198.4 L573.7 197.8 L574.5 197.1 L575.3 196.3 L576.1 195.5 L576.9 194.6 L577.8 193.7 L578.7 192.7 L579.5 191.7 L580.4 190.6 L581.2 189.6 L582.0 188.7 L582.8 187.7 L583.5 186.8 L584.2 185.8 L584.9 185.0 L585.6 184.4 L586.3 184.1 L587.0 184.1 L587.7 184.5 L588.4 185.1 L589.1 185.7 L589.8 186.4 L590.5 187.0 L591.3 187.5 L592.2 188.0 L593.0 188.6 L593.9 189.1 L594.8 189.5 L595.6 189.9 L596.5 190.1 L597.3 190.2 L598.2 190.2 L599.0 190.2 L599.9 190.1 L600.7 189.9 L601.6 189.6 L602.4 189.4 L603.3 189.0 L604.1 188.5 L605.0 187.9 L605.9 187.0 L606.7 185.8 L607.5 184.5 L608.3 183.0 L609.1 181.3 L610.0 179.5 L611.0 177.6 L612.0 175.5 L613.1 173.2 L614.2 170.8 L615.4 168.4 L616.6 166.1 L617.8 164.0 L618.9 162.1 L620.1 160.3 L621.3 158.5 L622.4 157.0 L623.5 155.7 L624.6 154.7 L625.5 153.9 L626.4 153.5 L627.3 153.3 L628.1 153.3 L628.9 153.5 L629.7 153.8 L630.3 154.4 L630.9 155.2 L631.4 156.3 L631.9 157.4 L632.4 158.6 L633.1 159.8 L633.8 160.9 L634.6 162.2 L635.5 163.5 L636.4 164.8 L637.3 166.1 L638.2 167.4 L639.0 168.7 L639.9 169.9 L640.7 171.1 L641.6 172.4 L642.4 173.7 L643.3 175.1 L644.1 176.5 L645.0 178.1 L645.8 179.7 L646.7 181.4 L647.5 182.9 L648.4 184.4 L649.2 185.8 L650.1 187.2 L650.9 188.5 L651.8 189.8 L652.6 191.0 L653.5 192.1 L654.4 193.1 L655.3 194.1 L656.2 195.1 L657.1 195.9 L657.9 196.6 L658.6 197.2 L659.0 197.5 L659.1 197.6 L659.2 197.6 L659.3 197.6 L659.5 197.5 L660.0 197.6 L660.8 197.9 L661.9 198.3 L663.1 198.7 L664.3 199.1 L665.6 199.3 L666.8 199.3 L667.9 199.0 L669.1 198.4 L670.2 197.7 L671.3 196.9 L672.5 196.2 L673.6 195.6 L674.8 195.1 L675.9 194.6 L677.1 194.1 L678.3 193.7 L679.4 193.4 L680.4 193.4 L681.4 193.5 L682.2 193.8 L683.1 194.2 L683.9 194.7 L684.7 195.3 L685.5 195.9 L686.4 196.6 L687.2 197.4 L688.1 198.3 L688.9 199.2 L689.8 200.1 L690.6 201.0 L691.5 201.9 L692.3 202.7 L693.2 203.5 L694.0 204.4 L694.9 205.2 L695.7 206.1 L696.6 207.1 L697.4 208.1 L698.3 209.2 L699.2 210.2 L700.0 211.2 L700.8 212.1 L701.6 212.8 L702.2 213.5 L702.9 214.1 L703.6 214.7 L704.3 215.1 L705.1 215.5 L706.0 215.8 L706.9 215.9 L707.9 216.1 L708.9 216.1 L710.0 216.1 L711.0 216.0 L712.1 215.9 L713.3 215.7 L714.4 215.4 L715.6 215.1 L716.7 214.7 L717.8 214.3 L718.9 213.8 L719.9 213.3 L720.9 212.6 L721.8 212.0 L722.8 211.2 L723.8 210.4 L724.8 209.3 L725.8 208.0 L726.8 206.6 L727.8 205.3 L728.8 204.2 L729.7 203.6 L730.6 203.5 L731.5 203.7 L732.3 204.3 L733.2 204.9 L734.0 205.6 L734.8 206.1 L735.7 206.5 L736.5 206.8 L737.4 207.1 L738.2 207.5 L739.1 208.0 L739.9 208.7 L740.8 209.5 L741.7 210.3 L742.6 211.3 L743.5 212.5 L744.3 213.8 L745.0 215.5 L745.7 217.5 L746.2 220.0 L746.7 222.7 L747.2 225.4 L747.8 227.9 L748.5 230.0 L749.4 231.5 L750.5 232.7 L751.7 233.7 L752.9 234.6 L754.1 235.6 L755.3 236.8 L756.5 238.4 L757.6 240.2 L758.8 242.1 L760.0 243.9 L761.1 245.6 L762.1 247.0 L763.0 248.1 L763.9 249.1 L764.7 249.9 L765.4 250.5 L766.3 251.0 L767.2 251.3 L768.2 251.3 L769.4 250.9 L770.5 250.5 L771.7 250.0 L772.9 249.6 L774.0 249.6 L775.1 249.8 L776.2 250.1 L777.3 250.6 L778.4 251.2 L779.6 252.0 L780.8 253.0 L782.2 254.2 L783.6 255.6 L785.1 257.3 L786.5 259.0 L788.0 260.7 L789.3 262.3 L790.6 263.9 L791.7 265.5 L792.8 267.1 L793.9 268.7 L795.0 270.2 L796.1 271.7 L797.3 273.0 L798.4 274.3 L799.5 275.5 L800.7 276.8 L801.8 278.0 L802.9 279.3 L804.1 280.7 L805.2 282.2 L806.3 283.8 L807.5 285.2 L808.6 286.6 L809.7 287.8 L810.9 288.9 L812.0 289.9 L813.1 290.8 L814.3 291.6 L815.4 292.2 L816.5 292.6 L817.7 292.7 L818.9 292.4 L820.0 292.0 L821.2 291.6 L822.3 291.2 L823.3 291.2 L824.3 291.6 L825.2 292.4 L826.0 293.2 L826.8 294.0 L827.6 294.5 L828.4 294.6 L829.3 294.2 L830.1 293.5 L831.0 292.5 L831.8 291.3 L832.7 290.0 L833.5 288.7 L834.4 287.1 L835.2 285.3 L836.1 283.4 L836.9 281.5 L837.8 279.8 L838.6 278.5 L839.5 277.5 L840.4 276.7 L841.2 276.2 L842.1 275.8 L842.9 275.6 L843.7 275.6 L844.5 275.7 L845.2 275.9 L845.9 276.4 L846.6 276.9 L847.3 277.6 L848.0 278.5 L848.7 279.5 L849.3 280.7 L850.0 282.0 L850.6 283.4 L851.4 284.8 L852.2 286.1 L853.2 287.5 L854.3 288.9 L855.5 290.3 L856.7 291.6 L857.9 292.8 L859.0 293.8 L860.2 294.5 L861.3 295.0 L862.4 295.4 L863.6 295.7 L864.7 295.8 L865.9 296.0 L867.0 296.0 L868.2 295.9 L869.4 295.7 L870.5 295.5 L871.6 295.4 L872.7 295.5 L873.6 295.7 L874.5 296.1 L875.4 296.6 L876.2 297.2 L877.0 297.9 L877.8 298.9 L878.4 300.1 L879.0 301.6 L879.5 303.2 L880.0 304.9 L880.5 306.6 L881.2 308.2 L881.9 309.8 L882.8 311.5 L883.7 313.1 L884.6 314.7 L885.4 316.2 L886.3 317.6 L887.1 318.8 L887.9 319.9 L888.7 321.0 L889.4 321.9 L890.1 322.6 L890.5 323.2" stroke="#2962ff" stroke-width="1.1" fill="none" stroke-linejoin="round"/>
<path d="M0.62 158.0V172.0 M3.79 158.0V175.0 M6.96 144.4V178.4 M10.12 163.1V175.0 M13.29 149.5V169.9 M16.46 141.0V166.5 M19.62 149.5V174.2 M22.79 151.2V174.2 M25.96 149.5V159.7 M29.12 150.4V164.8 M32.29 154.6V173.3 M35.46 141.0V157.2 M38.63 126.6V144.4 M41.79 135.9V159.7 M44.96 156.3V176.7 M48.13 154.6V178.4 M51.29 146.1V168.2 M54.46 155.5V178.4 M57.63 158.0V171.6 M60.80 161.4V185.2 M63.96 124.9V188.3 M67.13 124.0V182.7 M70.30 139.3V147.8 M73.46 115.5V150.4 M76.63 129.1V151.2 M79.80 110.4V149.5 M82.96 124.9V161.4 M86.13 108.7V161.4 M89.30 98.5V124.0 M92.47 105.3V118.9 M95.63 103.6V149.5 M98.80 115.5V141.0 M101.97 132.5V165.7 M105.13 137.6V162.3 M108.30 95.1V139.3 M111.47 74.2V102.3 M114.63 70.8V84.4 M117.80 77.6V103.1 M120.97 77.6V104.8 M124.13 64.0V81.0 M127.30 62.3V74.2 M130.47 64.0V74.2 M133.64 68.3V84.4 M136.80 77.6V93.8 M139.97 72.5V121.0 M143.14 87.8V111.6 M146.30 90.4V113.3 M149.47 106.5V118.4 M152.64 92.1V115.0 M155.81 68.3V98.9 M158.97 64.9V86.1 M162.14 73.4V92.1 M165.31 52.1V79.3 M168.47 30.0V60.6 M171.64 46.2V117.6 M174.81 104.8V126.9 M177.97 105.7V123.5 M181.14 109.9V122.7 M184.31 107.4V119.3 M187.47 93.8V113.3 M190.64 90.4V103.1 M193.81 87.0V104.8 M196.98 82.7V111.6 M200.14 104.8V121.0 M203.31 94.6V118.4 M206.48 39.4V96.3 M209.64 68.3V93.8 M212.81 65.7V91.2 M215.98 64.9V86.1 M219.14 81.5V133.4 M222.31 123.2V156.0 M225.48 120.6V136.8 M228.65 117.2V135.1 M231.81 118.9V133.4 M234.98 118.9V124.9 M238.15 113.8V125.7 M241.31 98.5V113.8 M244.48 91.7V113.8 M247.65 84.9V96.8 M250.81 73.8V90.9 M253.98 75.5V158.0 M257.15 135.1V150.4 M260.32 141.0V152.9 M263.48 141.0V155.0 M266.65 144.4V153.3 M269.82 134.2V149.5 M272.98 135.1V144.4 M276.15 138.5V142.7 M279.32 135.9V147.0 M282.49 135.1V142.7 M285.65 124.0V161.4 M288.82 152.9V159.7 M291.99 148.7V161.4 M295.15 156.3V211.0 M298.32 205.1V222.1 M301.49 214.4V226.3 M304.65 209.3V223.8 M307.82 211.9V227.2 M310.99 219.5V234.8 M314.15 234.0V251.0 M317.32 246.7V257.8 M320.49 247.6V256.9 M323.66 227.7V252.7 M326.82 235.7V239.9 M329.99 235.7V254.4 M333.16 236.5V250.1 M336.32 199.1V241.3 M339.49 194.0V205.9 M342.66 187.2V200.8 M345.82 188.9V206.8 M348.99 198.3V206.8 M352.16 188.9V201.7 M355.33 190.3V200.0 M358.49 191.5V200.0 M361.66 190.6V208.5 M364.83 197.4V213.6 M367.99 211.9V230.6 M371.16 216.1V234.8 M374.33 217.0V231.4 M377.50 209.3V222.9 M380.66 200.8V217.8 M383.83 198.3V228.0 M387.00 182.1V210.7 M390.16 171.1V194.0 M393.33 163.3V199.0 M396.50 154.0V171.8 M399.66 148.0V159.9 M402.83 129.3V151.4 M406.00 125.1V144.6 M409.17 131.9V159.1 M412.33 144.6V165.9 M415.50 145.5V165.0 M418.67 116.6V174.4 M421.83 119.1V131.9 M425.00 100.4V130.2 M428.17 101.3V114.0 M431.33 104.7V121.7 M434.50 84.3V117.4 M437.67 67.4V95.5 M440.83 64.9V80.2 M444.00 53.8V75.1 M447.17 47.0V66.6 M450.34 43.3V61.5 M453.50 56.4V74.2 M456.67 55.5V79.3 M459.84 41.1V92.9 M463.00 74.6V95.5 M466.17 70.8V109.9 M469.34 89.5V104.8 M472.50 98.0V118.4 M475.67 115.7V137.0 M478.84 131.9V144.6 M482.01 135.3V159.9 M485.17 145.5V161.6 M488.34 157.4V168.4 M491.51 153.1V168.4 M494.67 133.4V163.2 M497.84 135.1V164.0 M501.01 141.9V189.5 M504.18 162.3V183.6 M507.34 166.6V179.3 M510.51 170.8V185.3 M513.68 173.4V196.3 M516.84 172.5V194.6 M520.01 175.9V191.2 M523.18 181.9V193.8 M526.34 187.0V197.2 M529.51 181.0V196.3 M532.68 176.8V194.6 M535.84 180.2V192.9 M539.01 159.8V183.6 M542.18 167.4V188.7 M545.35 176.8V189.5 M548.51 184.4V199.7 M551.68 195.5V217.6 M554.85 201.4V214.7 M558.01 200.6V211.6 M561.18 201.4V209.6 M564.35 191.2V203.1 M567.51 193.8V201.1 M570.68 182.4V201.1 M573.85 188.7V199.4 M577.02 179.3V196.3 M580.18 174.2V187.0 M583.35 159.8V188.7 M586.52 173.4V179.3 M589.68 173.4V192.9 M592.85 187.8V199.7 M596.02 191.6V200.1 M599.18 185.3V199.7 M602.35 187.8V199.7 M605.52 174.2V189.5 M608.69 166.6V184.4 M611.85 154.7V169.1 M615.02 147.9V158.6 M618.19 147.9V153.8 M621.35 149.6V154.1 M624.52 128.3V156.4 M627.69 142.8V155.5 M630.85 148.7V166.6 M634.02 158.9V177.3 M637.19 173.4V181.9 M640.36 173.9V182.7 M643.52 179.3V196.0 M646.69 187.0V193.8 M649.86 189.5V205.7 M653.02 195.5V213.3 M656.19 200.1V204.0 M659.36 197.2V207.4 M662.52 190.8V205.3 M665.69 190.8V210.4 M668.86 181.5V204.4 M672.03 189.1V199.3 M675.19 193.4V201.9 M678.36 182.3V194.6 M681.53 182.3V204.4 M684.69 190.0V206.1 M687.86 201.9V208.2 M691.03 197.6V212.2 M694.19 203.6V212.2 M697.36 201.0V218.0 M700.53 214.6V223.5 M703.70 218.0V229.9 M706.86 218.0V236.7 M710.03 209.2V219.7 M713.20 212.9V220.6 M716.36 188.3V218.9 M719.53 207.8V217.2 M722.70 206.1V218.0 M725.86 190.8V211.2 M729.03 188.3V197.3 M732.20 190.0V210.4 M735.37 206.1V214.3 M738.53 206.1V212.6 M741.70 201.0V214.6 M744.87 210.4V218.9 M748.03 214.7V268.3 M751.20 241.9V268.3 M754.37 238.5V253.8 M757.53 243.3V254.7 M760.70 248.7V260.3 M763.87 253.0V264.0 M767.04 254.7V262.3 M770.20 246.2V257.6 M773.37 244.5V250.4 M776.54 246.2V257.6 M779.70 251.3V260.6 M782.87 253.0V276.8 M786.04 254.7V277.3 M789.20 258.1V281.9 M792.37 266.6V277.6 M795.54 274.2V288.2 M798.71 271.7V286.5 M801.87 273.9V292.9 M805.04 287.8V299.7 M808.21 290.4V302.3 M811.37 284.1V302.8 M814.54 282.7V297.2 M817.71 294.6V306.9 M820.87 287.8V302.8 M824.04 288.7V295.5 M827.21 292.6V320.1 M830.38 284.1V314.2 M833.54 270.0V286.5 M836.71 268.8V287.0 M839.88 252.1V267.4 M843.04 257.6V276.8 M846.21 266.6V275.6 M849.38 275.1V297.2 M852.54 292.9V307.9 M855.71 297.2V308.6 M858.88 294.6V304.0 M862.05 290.4V304.8 M865.21 297.2V310.8 M868.38 290.4V300.6 M871.55 287.0V304.5 M874.71 287.0V297.2 M877.88 293.8V304.5 M881.05 298.7V348.9 M884.21 323.4V342.9 M887.38 320.8V335.8 M890.55 332.7V335.1" stroke="#787878" stroke-width="1.3" fill="none"/>
<path d="M0.62 161.0V168.0 M6.96 167.4V170.8 M10.12 165.7V168.2 M13.29 164.8V167.4 M16.46 150.4V164.8 M25.96 151.2V158.0 M32.29 157.2V166.5 M35.46 143.1V156.3 M38.63 134.6V143.1 M48.13 156.7V173.3 M54.46 156.7V161.4 M63.96 173.3V182.7 M67.13 139.3V172.0 M76.63 136.8V149.5 M86.13 124.0V154.6 M89.30 115.5V123.2 M92.47 112.1V115.5 M105.13 138.5V159.7 M108.30 101.4V138.5 M111.47 79.3V101.4 M120.97 80.2V102.3 M124.13 70.0V79.3 M127.30 66.6V70.8 M143.14 107.4V110.8 M146.30 108.2V111.6 M149.47 108.6V117.6 M152.64 98.0V103.5 M155.81 73.4V98.0 M162.14 75.9V84.4 M165.31 61.5V77.6 M184.31 112.5V118.4 M187.47 98.0V112.5 M190.64 92.1V102.3 M203.31 96.3V109.1 M206.48 73.4V94.6 M212.81 67.4V89.5 M225.48 124.0V130.8 M231.81 121.1V130.0 M238.15 115.5V124.9 M241.31 104.5V113.0 M244.48 93.7V105.0 M247.65 92.0V94.3 M250.81 76.4V89.5 M260.32 146.1V147.1 M266.65 146.1V151.2 M269.82 143.1V146.1 M272.98 140.2V143.6 M279.32 138.5V141.0 M288.82 154.3V156.7 M304.65 215.3V222.1 M320.49 251.5V256.1 M323.66 236.5V251.8 M333.16 238.2V248.8 M336.32 200.0V238.2 M339.49 200.0V204.6 M342.66 194.0V199.1 M348.99 200.0V205.9 M352.16 191.5V200.8 M358.49 195.7V198.8 M374.33 222.1V230.6 M377.50 211.0V221.6 M380.66 209.7V213.1 M383.83 199.1V210.7 M387.00 186.4V200.5 M390.16 186.7V188.6 M393.33 165.9V186.8 M396.50 155.7V166.7 M399.66 149.7V156.5 M402.83 131.9V150.6 M412.33 148.0V156.5 M418.67 120.8V165.0 M425.00 108.6V129.3 M431.33 107.2V113.2 M434.50 94.5V110.6 M437.67 69.1V91.2 M440.83 66.2V69.5 M444.00 59.3V69.5 M447.17 48.7V59.8 M456.67 56.9V72.5 M463.00 78.5V94.6 M469.34 103.5V104.5 M491.51 162.5V164.5 M494.67 136.0V158.6 M504.18 178.1V182.7 M510.51 175.9V179.7 M516.84 176.4V193.8 M529.51 183.1V191.6 M535.84 182.7V191.2 M539.01 170.0V182.7 M545.35 183.6V187.8 M558.01 206.9V210.8 M561.18 202.8V208.6 M564.35 195.5V202.3 M570.68 198.9V200.1 M573.85 194.3V198.4 M577.02 183.1V195.5 M583.35 177.6V185.8 M586.52 175.9V177.6 M599.18 192.1V198.9 M602.35 189.0V192.1 M605.52 175.6V188.7 M608.69 167.8V175.6 M611.85 156.9V168.3 M615.02 153.0V157.6 M624.52 143.9V153.8 M637.19 174.6V176.3 M646.69 189.9V191.2 M653.02 202.3V205.7 M662.52 195.1V204.4 M668.86 198.5V203.6 M672.03 193.9V198.5 M678.36 186.6V193.9 M694.19 207.0V211.6 M706.86 218.9V227.4 M710.03 216.3V218.9 M713.20 215.5V216.7 M716.36 212.1V215.5 M722.70 208.2V216.0 M725.86 196.3V210.4 M729.03 191.2V196.3 M738.53 207.5V211.6 M751.20 245.6V259.3 M754.37 244.5V246.2 M767.04 255.9V261.5 M770.20 247.9V256.9 M779.70 253.0V256.9 M789.20 269.5V280.2 M798.71 275.1V285.8 M811.37 286.1V301.4 M820.87 289.2V301.1 M830.38 285.3V309.9 M836.71 270.0V285.3 M839.88 258.1V266.6 M855.71 303.1V306.2 M858.88 296.7V302.3 M865.21 298.0V301.4 M871.55 294.3V303.5 M884.21 325.1V337.0 M890.55 333.1V334.8" stroke="#3a7d52" stroke-width="2.4" fill="none"/>
<path d="M3.79 161.4V171.6 M19.62 152.9V173.3 M22.79 154.6V173.3 M29.12 152.1V163.1 M41.79 138.5V158.0 M44.96 158.0V173.3 M51.29 147.8V157.2 M57.63 161.4V166.5 M60.80 163.5V180.1 M70.30 141.9V144.4 M73.46 139.3V148.7 M79.80 135.9V140.2 M82.96 139.3V153.8 M95.63 113.0V124.0 M98.80 122.3V139.3 M101.97 141.9V158.9 M114.63 75.1V82.7 M117.80 80.2V101.4 M130.47 68.3V71.7 M133.64 70.8V82.7 M136.80 80.2V87.0 M139.97 87.8V106.5 M158.97 77.6V84.4 M168.47 57.7V59.8 M171.64 53.0V109.9 M174.81 107.9V109.1 M177.97 108.2V113.3 M181.14 112.5V117.1 M193.81 93.8V103.1 M196.98 102.3V107.4 M200.14 109.6V110.8 M209.64 70.0V90.4 M215.98 67.8V84.4 M219.14 82.7V130.8 M222.31 126.1V130.5 M228.65 123.7V128.3 M234.98 120.3V123.7 M253.98 77.6V140.7 M257.15 138.5V149.2 M263.48 144.1V151.2 M276.15 140.2V141.5 M282.49 137.6V139.3 M285.65 139.3V158.9 M291.99 152.9V160.1 M295.15 158.0V209.3 M298.32 209.3V217.8 M301.49 216.1V222.9 M307.82 213.1V223.8 M310.99 223.3V233.5 M314.15 235.7V250.1 M317.32 249.8V255.2 M326.82 237.0V238.7 M329.99 237.4V247.6 M345.82 194.0V205.9 M355.33 194.9V198.8 M361.66 194.5V199.1 M364.83 198.8V211.9 M367.99 213.1V223.3 M371.16 225.1V228.9 M406.00 131.9V142.1 M409.17 142.1V158.2 M415.50 151.4V163.3 M421.83 123.4V130.2 M428.17 106.0V113.2 M450.34 47.0V60.6 M453.50 60.6V72.5 M459.84 56.4V91.6 M466.17 79.3V104.0 M472.50 103.5V110.8 M475.67 117.4V132.4 M478.84 132.7V134.8 M482.01 136.5V153.1 M485.17 151.4V159.9 M488.34 158.6V167.1 M497.84 136.8V159.8 M501.01 159.8V181.9 M507.34 175.9V178.0 M513.68 175.1V194.6 M520.01 178.5V183.6 M523.18 183.6V188.7 M526.34 188.3V192.6 M532.68 187.0V190.4 M542.18 169.1V187.5 M548.51 186.5V198.4 M551.68 196.7V201.8 M554.85 202.8V210.3 M567.51 195.0V200.1 M580.18 183.1V184.1 M589.68 175.1V188.7 M592.85 188.7V190.9 M596.02 192.9V199.4 M618.19 151.3V153.0 M621.35 150.7V153.5 M627.69 145.3V150.1 M630.85 149.6V160.6 M634.02 160.3V176.3 M640.36 175.1V180.7 M643.52 180.7V191.6 M649.86 191.2V204.8 M656.19 201.4V202.8 M659.36 202.3V206.5 M665.69 195.6V203.6 M675.19 194.6V195.6 M681.53 186.1V192.5 M684.69 190.8V204.1 M687.86 203.1V207.5 M691.03 207.5V211.6 M697.36 207.5V216.7 M700.53 215.5V221.4 M703.70 220.1V227.4 M719.53 212.9V216.3 M732.20 192.5V207.8 M735.37 207.0V213.3 M741.70 206.1V213.8 M744.87 213.8V218.0 M748.03 216.4V259.3 M757.53 244.5V250.4 M760.70 250.1V259.3 M763.87 257.2V261.5 M773.37 247.5V249.6 M776.54 247.0V256.9 M782.87 254.1V259.8 M786.04 258.9V276.3 M792.37 270.8V276.8 M795.54 275.6V287.0 M801.87 275.1V289.9 M805.04 289.2V297.2 M808.21 294.3V301.4 M814.54 285.3V296.3 M817.71 296.0V301.1 M824.04 289.9V294.6 M827.21 294.3V309.6 M833.54 283.1V285.8 M843.04 258.9V273.4 M846.21 272.5V274.6 M849.38 276.3V294.6 M852.54 294.3V305.7 M862.05 297.7V301.1 M868.38 296.7V299.7 M874.71 292.6V295.5 M877.88 295.0V303.5 M881.05 303.0V336.1 M887.38 325.9V334.8" stroke="#a12b16" stroke-width="2.4" fill="none"/>
<path d="M0.0 439.6 L4.0 443.6 L9.0 441.0 L13.0 434.0 L16.0 432.0 L19.4 441.0 L22.4 425.0 L26.0 420.4 L29.0 418.0 L32.0 398.0 L36.0 375.0 L40.0 392.0 L42.4 420.0 L45.0 436.6 L48.0 414.4 L51.0 428.0 L54.0 419.0 L57.6 404.6 L60.6 429.0 L63.6 424.0 L67.0 398.0 L70.0 393.6 L73.0 406.0 L76.6 395.0 L80.0 400.0 L83.0 411.0 L86.0 389.0 L90.0 385.0 L93.0 386.0 L96.0 396.0 L99.0 408.0 L102.0 419.0 L105.0 403.0 L108.0 379.0 L111.0 377.0 L115.0 394.0 L118.0 404.4 L121.0 392.0 L124.0 383.0 L127.0 377.0 L130.0 388.0 L133.0 396.0 L137.0 400.0 L140.0 411.0 L143.0 412.4 L147.0 418.0 L152.0 425.0 L155.6 396.0 L159.0 411.0 L162.0 402.0 L165.6 390.0 L169.0 406.0 L171.6 439.0 L174.4 435.6 L178.0 439.6 L181.0 441.0 L184.0 438.0 L187.0 428.0 L190.0 424.0 L193.0 430.0 L197.0 433.6 L200.0 436.0 L203.0 428.0 L206.6 410.0 L209.6 422.0 L213.0 398.0 L216.0 411.0 L219.0 445.0 L222.0 429.0 L225.0 427.0 L228.0 429.0 L231.0 425.6 L234.0 427.0 L237.0 423.0 L240.0 418.0 L244.0 409.0 L247.6 407.0 L250.6 383.0 L253.6 433.0 L257.0 440.0 L260.0 437.0 L263.0 441.0 L267.0 435.0 L272.0 431.0 L276.0 432.0 L280.0 429.0 L282.4 430.0 L285.6 444.0 L288.6 442.0 L292.0 446.0 L295.0 448.0 L298.0 443.6 L301.0 445.0 L304.0 440.0 L308.0 445.6 L314.0 448.0 L320.0 444.4 L324.0 436.4 L327.0 437.6 L330.0 441.6 L333.0 432.0 L336.0 408.0 L339.0 381.0 L342.4 380.6 L345.4 393.0 L348.4 387.0 L351.6 378.4 L354.4 383.6 L358.0 382.4 L362.0 387.0 L365.0 400.0 L368.0 412.0 L371.4 419.0 L374.4 413.0 L377.6 406.0 L380.0 408.0 L383.0 394.0 L386.6 380.0 L389.6 390.0 L393.0 376.4 L397.0 375.0 L400.0 374.0 L403.0 377.0 L406.0 386.0 L409.0 395.0 L412.0 392.0 L415.4 399.6 L418.6 379.6 L421.6 384.0 L425.0 378.4 L428.0 382.0 L431.0 379.0 L434.0 380.0 L437.0 375.0 L441.0 374.0 L444.0 376.4 L447.0 374.0 L450.0 382.0 L453.6 389.0 L456.0 383.0 L459.0 392.0 L462.0 408.0 L465.0 420.0 L468.0 430.0 L472.0 438.0 L475.6 444.4 L478.0 442.0 L483.0 444.0 L488.0 448.0 L492.0 440.0 L495.0 430.0 L498.0 442.0 L501.0 444.0 L505.0 440.0 L509.0 438.0 L513.0 445.0 L517.0 433.0 L521.0 434.0 L526.0 441.6 L530.0 433.0 L533.0 438.0 L537.0 428.0 L542.0 435.0 L545.0 428.0 L548.0 442.0 L551.0 432.0 L554.0 437.0 L558.0 434.0 L562.0 429.0 L565.0 427.0 L572.0 418.0 L580.0 428.0 L588.0 434.0 L596.0 428.0 L602.0 416.0 L607.0 398.0 L609.0 386.0 L612.0 379.6 L618.0 378.4 L621.0 382.0 L624.0 390.0 L628.0 400.0 L631.0 411.0 L633.6 422.4 L637.0 423.0 L640.0 430.0 L644.0 439.0 L647.0 442.0 L650.0 447.6 L653.0 439.0 L656.0 438.0 L659.0 441.6 L662.0 434.0 L665.0 438.0 L668.0 431.0 L672.0 425.0 L675.0 421.0 L678.0 403.0 L680.0 406.0 L682.0 405.0 L685.0 426.0 L688.0 434.0 L691.0 441.0 L694.0 432.0 L697.0 442.4 L700.0 442.0 L703.0 442.4 L706.0 424.0 L709.0 420.0 L713.0 417.0 L716.0 413.0 L719.0 419.0 L722.0 409.0 L725.6 387.0 L729.0 379.0 L732.0 403.0 L735.0 411.0 L738.4 403.0 L741.0 411.0 L744.0 418.0 L747.6 438.4 L750.4 427.0 L754.0 425.0 L757.0 429.0 L760.0 437.0 L764.0 440.4 L768.0 434.0 L771.0 429.0 L774.0 430.0 L777.0 434.0 L780.0 431.6 L783.0 432.0 L786.0 447.6 L789.0 434.0 L792.0 437.0 L795.0 444.0 L798.0 429.0 L801.0 441.0 L805.0 443.0 L808.0 445.0 L811.6 427.0 L814.0 438.0 L817.0 438.0 L820.6 424.0 L824.0 429.0 L827.0 426.0 L830.0 404.0 L833.0 398.0 L836.0 375.6 L839.0 380.0 L842.0 396.0 L846.0 398.0 L849.0 419.0 L852.4 431.0 L856.0 428.0 L859.0 421.0 L862.0 426.0 L865.0 423.0 L868.0 424.0 L871.0 423.0 L874.0 428.0 L877.0 438.0 L880.0 438.0 L884.0 428.0 L887.6 435.0 L890.0 432.0" stroke="#2962ff" stroke-width="1.2" fill="none" stroke-linejoin="round"/>
<path d="M0.0 441.0 L1.3 441.4 L3.1 442.0 L5.0 442.4 L6.6 442.5 L8.3 442.3 L10.0 441.6 L12.0 439.9 L14.1 437.7 L16.0 436.0 L17.4 435.7 L18.7 436.1 L20.0 435.6 L21.6 433.6 L23.4 430.8 L25.0 428.0 L26.4 425.6 L27.7 423.1 L29.0 420.0 L30.3 415.9 L31.7 411.0 L33.0 406.0 L34.4 400.4 L35.7 394.5 L37.0 390.0 L38.1 387.1 L39.0 385.6 L40.0 386.0 L41.0 389.2 L42.0 394.4 L43.0 400.0 L44.0 406.1 L44.9 412.6 L46.0 418.0 L47.3 421.9 L48.6 424.6 L50.0 426.0 L51.3 425.5 L52.7 423.7 L54.0 422.0 L55.3 420.8 L56.5 419.7 L58.0 419.0 L59.9 419.4 L62.1 420.2 L64.0 419.6 L65.5 416.5 L66.7 412.0 L68.0 408.0 L69.3 405.2 L70.7 402.8 L72.0 401.0 L73.3 399.7 L74.7 398.8 L76.0 398.4 L77.3 398.5 L78.6 399.1 L80.0 399.6 L81.6 400.1 L83.4 400.5 L85.0 400.0 L86.4 397.8 L87.7 394.7 L89.0 392.0 L90.3 390.1 L91.7 388.6 L93.0 388.0 L94.3 388.4 L95.7 389.8 L97.0 392.0 L98.4 395.7 L99.7 400.2 L101.0 404.0 L102.1 406.6 L103.0 408.5 L104.0 409.0 L105.0 407.8 L106.0 405.3 L107.0 402.0 L108.0 397.5 L108.9 392.3 L110.0 388.0 L111.3 385.2 L112.6 383.4 L114.0 383.0 L115.3 384.5 L116.7 387.4 L118.0 390.0 L119.3 392.2 L120.7 394.1 L122.0 395.0 L123.3 394.1 L124.7 392.0 L126.0 390.0 L127.4 388.0 L128.7 385.9 L130.0 385.0 L131.0 385.7 L131.9 387.6 L133.0 390.0 L134.6 393.0 L136.3 396.6 L138.0 400.0 L139.4 402.9 L140.6 405.5 L142.0 408.0 L143.6 410.5 L145.3 412.8 L147.0 415.0 L148.7 417.4 L150.4 419.6 L152.0 420.4 L153.4 418.8 L154.7 415.7 L156.0 413.0 L157.3 411.5 L158.7 410.4 L160.0 409.0 L161.3 407.1 L162.6 404.9 L164.0 403.0 L165.5 400.7 L167.0 398.7 L168.4 399.0 L169.6 403.1 L170.8 409.6 L172.0 416.0 L173.3 421.8 L174.7 427.4 L176.0 432.0 L177.0 434.9 L178.0 436.7 L179.0 438.0 L180.2 439.0 L181.6 439.4 L183.0 439.0 L184.6 437.2 L186.3 434.4 L188.0 432.0 L189.7 430.1 L191.4 428.5 L193.0 427.6 L194.4 427.5 L195.6 428.1 L197.0 429.0 L198.6 430.5 L200.4 432.4 L202.0 433.0 L203.4 431.5 L204.7 428.8 L206.0 426.0 L207.3 423.4 L208.7 420.7 L210.0 418.0 L211.3 415.2 L212.5 412.4 L213.6 410.4 L214.4 409.4 L215.1 409.3 L216.0 410.4 L217.2 413.4 L218.5 417.7 L220.0 422.0 L221.6 426.6 L223.4 431.2 L225.0 434.0 L226.4 433.8 L227.7 431.9 L229.0 430.0 L230.3 428.9 L231.7 427.8 L233.0 427.0 L234.4 426.6 L235.7 426.5 L237.0 426.0 L238.0 425.1 L239.0 424.0 L240.0 422.4 L241.3 420.2 L242.6 417.6 L244.0 415.0 L245.4 412.7 L246.7 410.4 L248.0 408.0 L249.1 404.8 L250.0 401.5 L251.0 400.0 L252.0 401.3 L253.0 404.4 L254.0 408.0 L255.0 411.5 L256.0 415.5 L257.0 420.0 L258.0 425.8 L259.0 432.2 L260.0 437.0 L260.9 439.1 L261.9 439.7 L263.0 439.6 L264.5 439.2 L266.3 438.2 L268.0 437.0 L269.7 435.7 L271.3 434.2 L273.0 433.0 L274.7 432.1 L276.4 431.5 L278.0 431.0 L279.4 430.5 L280.8 430.2 L282.0 430.4 L283.0 431.5 L284.0 433.2 L285.0 435.0 L286.3 437.0 L287.6 439.1 L289.0 441.0 L290.3 442.4 L291.6 443.5 L293.0 444.4 L294.6 445.1 L296.2 445.6 L298.0 445.6 L300.0 444.9 L302.0 443.8 L304.0 443.0 L305.7 442.9 L307.4 443.1 L309.0 443.6 L310.6 444.7 L312.3 446.1 L314.0 447.0 L316.0 447.1 L318.0 446.8 L320.0 446.0 L321.8 444.5 L323.4 442.6 L325.0 441.0 L326.4 439.9 L327.7 439.0 L329.0 438.4 L330.2 438.4 L331.3 438.6 L332.4 437.6 L333.5 434.9 L334.5 431.0 L335.6 426.0 L336.7 419.2 L337.9 411.2 L339.0 404.0 L340.0 398.1 L341.0 392.9 L342.0 389.0 L343.0 386.7 L343.9 385.5 L345.0 385.0 L346.3 385.2 L347.6 386.0 L349.0 386.4 L350.3 385.9 L351.6 384.9 L353.0 384.0 L354.6 383.0 L356.4 382.0 L358.0 381.6 L359.4 382.1 L360.7 383.2 L362.0 385.0 L363.2 387.5 L364.4 390.6 L365.6 394.0 L366.7 397.9 L367.9 402.2 L369.0 406.0 L370.1 409.4 L371.3 412.5 L372.4 414.4 L373.6 414.8 L374.8 414.0 L376.0 413.0 L377.3 412.1 L378.7 410.9 L380.0 409.0 L381.3 406.1 L382.7 402.6 L384.0 399.0 L385.3 395.5 L386.7 392.0 L388.0 389.0 L389.3 386.6 L390.7 384.6 L392.0 383.0 L393.3 381.8 L394.7 381.0 L396.0 380.0 L397.3 378.6 L398.7 377.1 L400.0 376.0 L401.2 375.3 L402.4 375.1 L403.6 375.6 L404.7 377.2 L405.8 379.6 L407.0 382.0 L408.3 384.3 L409.6 386.7 L411.0 389.0 L412.3 391.5 L413.7 393.9 L415.0 395.0 L416.3 393.8 L417.7 391.3 L419.0 389.0 L420.3 387.5 L421.7 386.3 L423.0 385.0 L424.3 383.5 L425.6 382.1 L427.0 381.0 L428.6 380.6 L430.3 380.6 L432.0 380.4 L433.7 379.7 L435.3 378.8 L437.0 378.0 L438.7 377.4 L440.3 376.9 L442.0 376.4 L443.7 375.7 L445.4 375.1 L447.0 375.0 L448.4 375.9 L449.7 377.4 L451.0 379.0 L452.4 380.5 L453.7 382.1 L455.0 383.6 L456.2 384.8 L457.3 386.0 L458.4 388.0 L459.6 391.3 L460.8 395.4 L462.0 400.0 L463.3 405.2 L464.7 410.8 L466.0 416.0 L467.3 420.4 L468.6 424.4 L470.0 428.0 L471.6 431.4 L473.4 434.5 L475.0 437.0 L476.4 438.6 L477.6 439.5 L479.0 440.4 L480.6 441.3 L482.2 442.2 L484.0 443.0 L486.0 444.2 L488.0 445.3 L490.0 445.6 L491.7 444.2 L493.4 441.9 L495.0 440.0 L496.6 438.9 L498.3 438.2 L500.0 438.0 L501.9 438.8 L504.0 440.2 L506.0 441.0 L508.0 440.7 L510.0 439.8 L512.0 439.0 L514.0 438.6 L516.0 438.4 L518.0 438.0 L520.0 437.3 L522.1 436.4 L524.0 436.0 L525.7 436.3 L527.4 437.1 L529.0 437.6 L530.7 437.7 L532.4 437.6 L534.0 437.0 L535.3 435.4 L536.4 433.3 L538.0 432.0 L540.4 432.2 L543.2 433.1 L546.0 434.0 L548.7 434.5 L551.5 434.9 L554.0 435.0 L556.2 434.7 L558.2 434.0 L560.0 433.0 L561.3 431.5 L562.3 429.6 L564.0 428.0 L566.9 426.6 L570.4 425.3 L574.0 425.0 L577.3 426.3 L580.7 428.4 L584.0 430.0 L587.4 430.7 L590.8 430.8 L594.0 430.0 L596.9 428.1 L599.6 425.4 L602.0 422.0 L604.0 417.9 L605.6 413.0 L607.0 408.0 L608.1 402.6 L609.0 396.9 L610.0 392.0 L611.2 388.3 L612.6 385.3 L614.0 383.0 L615.6 381.2 L617.4 380.0 L619.0 379.6 L620.4 380.0 L621.7 381.2 L623.0 383.0 L624.3 385.5 L625.7 388.6 L627.0 392.0 L628.3 395.7 L629.7 399.8 L631.0 404.0 L632.3 408.4 L633.7 413.0 L635.0 417.0 L636.3 420.1 L637.7 422.6 L639.0 425.0 L640.3 427.4 L641.7 429.8 L643.0 432.0 L644.3 434.1 L645.7 436.1 L647.0 438.0 L648.3 440.0 L649.7 441.8 L651.0 443.0 L652.3 443.1 L653.6 442.4 L655.0 441.6 L656.6 440.8 L658.3 439.9 L660.0 439.0 L661.7 438.4 L663.4 437.9 L665.0 437.0 L666.4 435.6 L667.7 433.8 L669.0 432.0 L670.3 430.5 L671.7 429.0 L673.0 427.0 L674.4 424.2 L675.7 421.0 L677.0 418.0 L678.1 415.2 L679.0 412.7 L680.0 411.0 L681.0 410.4 L681.9 410.7 L683.0 412.0 L684.3 414.7 L685.6 418.3 L687.0 422.0 L688.3 425.5 L689.6 429.0 L691.0 432.0 L692.6 434.1 L694.4 435.7 L696.0 437.0 L697.4 437.9 L698.7 438.4 L700.0 439.0 L701.2 440.3 L702.4 441.7 L703.6 442.0 L704.7 440.5 L705.8 437.9 L707.0 435.0 L708.3 431.8 L709.6 428.2 L711.0 425.0 L712.3 422.2 L713.7 419.8 L715.0 418.0 L716.3 417.4 L717.7 417.5 L719.0 417.0 L720.3 415.6 L721.7 413.6 L723.0 411.0 L724.4 407.7 L725.7 403.8 L727.0 400.0 L728.1 396.2 L729.0 392.6 L730.0 390.0 L731.0 388.8 L732.0 388.7 L733.0 389.6 L734.0 391.7 L734.9 394.8 L736.0 398.0 L737.3 401.1 L738.6 404.3 L740.0 407.0 L741.3 408.3 L742.7 409.1 L744.0 411.0 L745.3 415.3 L746.7 420.7 L748.0 425.0 L749.3 427.3 L750.7 428.4 L752.0 429.0 L753.3 428.8 L754.7 428.1 L756.0 428.0 L757.3 429.2 L758.5 431.1 L760.0 433.0 L761.9 435.0 L764.0 437.0 L766.0 438.0 L767.7 437.3 L769.4 435.6 L771.0 434.0 L772.6 432.8 L774.3 431.7 L776.0 431.0 L777.9 430.8 L780.0 431.0 L782.0 431.6 L784.0 432.8 L786.1 434.4 L788.0 436.0 L789.7 437.6 L791.4 439.2 L793.0 440.0 L794.6 439.4 L796.3 438.0 L798.0 437.0 L800.0 436.9 L802.1 437.2 L804.0 438.0 L805.5 439.8 L806.7 442.1 L808.0 443.0 L809.3 441.3 L810.6 438.3 L812.0 436.0 L813.6 435.7 L815.3 436.2 L817.0 436.0 L818.7 434.3 L820.4 431.9 L822.0 430.0 L823.4 429.6 L824.7 429.7 L826.0 429.0 L827.3 426.9 L828.7 423.8 L830.0 420.0 L831.3 415.1 L832.7 409.5 L834.0 404.0 L835.4 398.6 L836.7 393.2 L838.0 389.0 L839.1 386.4 L840.0 384.9 L841.0 384.0 L842.0 383.6 L843.0 383.9 L844.0 385.0 L845.0 387.2 L846.0 390.3 L847.0 394.0 L848.0 398.6 L848.9 403.9 L850.0 409.0 L851.3 413.8 L852.6 418.3 L854.0 422.0 L855.3 424.5 L856.6 426.1 L858.0 427.0 L859.6 426.8 L861.3 425.9 L863.0 425.0 L864.7 424.6 L866.4 424.3 L868.0 424.0 L869.4 423.6 L870.7 423.4 L872.0 423.6 L873.3 424.6 L874.6 426.2 L876.0 428.0 L877.6 430.4 L879.3 433.2 L881.0 435.0 L882.7 435.3 L884.4 434.7 L886.0 434.0 L887.6 433.2 L889.0 432.3 L890.0 431.6" stroke="#ff6d00" stroke-width="1.2" fill="none" stroke-linejoin="round"/>
<path d="M44.96 507.2V502.3 M54.46 507.2V503.0 M57.63 507.2V503.0 M67.13 507.2V505.2 M70.30 507.2V503.8 M73.46 507.2V502.6 M76.63 507.2V501.9 M82.96 507.2V501.9 M86.13 507.2V501.2 M89.30 507.2V500.5 M92.47 507.2V499.6 M108.30 507.2V503.1 M111.47 507.2V500.7 M114.63 507.2V499.1 M120.97 507.2V500.6 M124.13 507.2V499.0 M127.30 507.2V497.9 M165.31 507.2V506.4 M168.47 507.2V505.3 M209.64 507.2V505.9 M212.81 507.2V504.5 M247.65 507.2V505.1 M250.81 507.2V504.5 M333.16 507.2V506.8 M336.32 507.2V502.8 M339.49 507.2V498.6 M342.66 507.2V496.7 M345.82 507.2V496.0 M348.99 507.2V495.8 M377.50 507.2V504.9 M380.66 507.2V504.1 M383.83 507.2V503.1 M387.00 507.2V502.4 M390.16 507.2V501.7 M393.33 507.2V499.9 M396.50 507.2V497.4 M399.66 507.2V495.9 M402.83 507.2V495.0 M418.67 507.2V500.6 M421.83 507.2V499.8 M425.00 507.2V499.2 M428.17 507.2V498.9 M431.33 507.2V498.7 M434.50 507.2V498.0 M437.67 507.2V497.5 M440.83 507.2V497.1 M444.00 507.2V496.6 M539.01 507.2V506.5 M542.18 507.2V505.9 M564.35 507.2V506.8 M567.51 507.2V506.3 M570.68 507.2V505.6 M573.85 507.2V504.6 M577.02 507.2V503.6 M580.18 507.2V502.4 M583.35 507.2V501.2 M586.52 507.2V500.8 M602.35 507.2V503.4 M605.52 507.2V502.4 M608.69 507.2V501.3 M611.85 507.2V500.2 M615.02 507.2V499.4 M618.19 507.2V499.0 M621.35 507.2V499.0 M722.70 507.2V506.2 M725.86 507.2V504.5 M729.03 507.2V503.5 M817.71 507.2V506.8 M820.87 507.2V506.2 M824.04 507.2V505.7 M830.38 507.2V505.1 M833.54 507.2V503.2 M836.71 507.2V501.0 M839.88 507.2V499.3 M843.04 507.2V499.3 M868.38 507.2V506.6 M871.55 507.2V506.1 M874.71 507.2V505.5" stroke="#26a69a" stroke-width="1.9" fill="none"/>
<path d="M48.13 507.2V503.2 M51.29 507.2V503.5 M60.80 507.2V505.1 M63.96 507.2V506.3 M79.80 507.2V502.1 M95.63 507.2V500.2 M98.80 507.2V502.1 M101.97 507.2V504.8 M105.13 507.2V505.8 M117.80 507.2V500.8 M130.47 507.2V499.0 M133.64 507.2V501.1 M136.80 507.2V503.6 M139.97 507.2V506.7 M215.98 507.2V505.6 M352.16 507.2V496.0 M355.33 507.2V496.4 M358.49 507.2V497.0 M361.66 507.2V498.0 M364.83 507.2V499.9 M367.99 507.2V502.1 M371.16 507.2V504.5 M374.33 507.2V505.4 M406.00 507.2V495.4 M409.17 507.2V497.1 M412.33 507.2V498.9 M415.50 507.2V501.5 M447.17 507.2V496.6 M450.34 507.2V498.5 M453.50 507.2V500.8 M456.67 507.2V502.7 M459.84 507.2V506.5 M545.35 507.2V505.9 M548.51 507.2V506.6 M551.68 507.2V506.8 M589.68 507.2V501.3 M592.85 507.2V502.5 M596.02 507.2V503.3 M599.18 507.2V503.7 M624.52 507.2V499.1 M627.69 507.2V499.7 M630.85 507.2V501.5 M634.02 507.2V504.1 M637.19 507.2V506.8 M732.20 507.2V503.8 M735.37 507.2V504.4 M738.53 507.2V504.9 M741.70 507.2V505.4 M827.21 507.2V506.0 M846.21 507.2V499.9 M849.38 507.2V501.9 M852.54 507.2V504.1 M855.71 507.2V505.8 M858.88 507.2V506.5 M862.05 507.2V506.8 M865.21 507.2V506.8 M877.88 507.2V506.5" stroke="#b2dfdb" stroke-width="1.9" fill="none"/>
<path d="M143.14 507.2V509.7 M146.30 507.2V511.6 M149.47 507.2V513.1 M171.64 507.2V508.0 M174.81 507.2V510.5 M177.97 507.2V512.6 M181.14 507.2V513.8 M184.31 507.2V513.9 M196.98 507.2V512.3 M219.14 507.2V510.1 M222.31 507.2V512.9 M225.48 507.2V513.7 M228.65 507.2V513.9 M253.98 507.2V508.4 M257.15 507.2V511.0 M260.32 507.2V512.9 M263.48 507.2V513.3 M285.65 507.2V509.1 M288.82 507.2V509.4 M291.99 507.2V509.7 M295.15 507.2V512.2 M298.32 507.2V514.9 M301.49 507.2V516.7 M310.99 507.2V517.0 M314.15 507.2V517.3 M317.32 507.2V517.4 M463.00 507.2V509.8 M466.17 507.2V512.8 M469.34 507.2V515.3 M472.50 507.2V517.9 M475.67 507.2V520.5 M478.84 507.2V521.3 M482.01 507.2V522.9 M485.17 507.2V525.1 M488.34 507.2V525.4 M501.01 507.2V518.3 M554.85 507.2V507.6 M558.01 507.2V507.9 M640.36 507.2V509.6 M643.52 507.2V511.8 M646.69 507.2V513.1 M649.86 507.2V513.7 M653.02 507.2V513.9 M656.19 507.2V514.3 M684.69 507.2V507.8 M687.86 507.2V508.2 M691.03 507.2V508.4 M694.19 507.2V508.7 M697.36 507.2V508.9 M700.53 507.2V509.3 M703.70 507.2V509.6 M744.87 507.2V507.6 M748.03 507.2V510.0 M751.20 507.2V511.0 M754.37 507.2V511.3 M757.53 507.2V511.6 M760.70 507.2V512.0 M763.87 507.2V512.2 M786.04 507.2V508.1 M789.20 507.2V508.6 M792.37 507.2V508.8 M801.87 507.2V508.9 M805.04 507.2V509.7 M808.21 507.2V510.1 M881.05 507.2V509.6 M884.21 507.2V510.5 M887.38 507.2V510.9" stroke="#ff5252" stroke-width="1.9" fill="none"/>
<path d="M152.64 507.2V512.1 M155.81 507.2V509.7 M158.97 507.2V508.4 M162.14 507.2V507.9 M187.47 507.2V513.3 M190.64 507.2V512.7 M193.81 507.2V512.2 M200.14 507.2V512.0 M203.31 507.2V510.4 M206.48 507.2V507.9 M231.81 507.2V513.5 M234.98 507.2V511.9 M238.15 507.2V509.8 M241.31 507.2V508.8 M244.48 507.2V507.6 M266.65 507.2V512.9 M269.82 507.2V512.1 M272.98 507.2V511.2 M276.15 507.2V510.2 M279.32 507.2V509.1 M282.49 507.2V508.7 M304.65 507.2V516.6 M307.82 507.2V516.4 M320.49 507.2V516.4 M323.66 507.2V513.8 M326.82 507.2V511.6 M329.99 507.2V510.1 M491.51 507.2V523.2 M494.67 507.2V519.7 M497.84 507.2V518.0 M504.18 507.2V517.7 M507.34 507.2V517.0 M510.51 507.2V516.5 M513.68 507.2V516.0 M516.84 507.2V514.8 M520.01 507.2V513.3 M523.18 507.2V512.5 M526.34 507.2V512.0 M529.51 507.2V511.1 M532.68 507.2V509.8 M535.84 507.2V508.1 M561.18 507.2V507.6 M659.36 507.2V514.1 M662.52 507.2V513.4 M665.69 507.2V512.7 M668.86 507.2V511.6 M672.03 507.2V510.4 M675.19 507.2V509.3 M678.36 507.2V508.3 M681.53 507.2V507.7 M706.86 507.2V509.5 M710.03 507.2V508.9 M713.20 507.2V508.3 M716.36 507.2V507.9 M719.53 507.2V507.6 M767.04 507.2V511.7 M770.20 507.2V510.3 M773.37 507.2V509.1 M776.54 507.2V508.4 M779.70 507.2V507.8 M782.87 507.2V507.6 M795.54 507.2V508.8 M798.71 507.2V508.6 M811.37 507.2V509.4 M814.54 507.2V508.2" stroke="#ffcdd2" stroke-width="1.9" fill="none"/>
<path d="M27.6 529.1 L28.4 528.5 L29.7 527.6 L31.2 526.6 L32.7 525.5 L34.1 524.2 L35.7 522.6 L37.2 521.2 L38.8 520.4 L40.3 520.2 L41.8 520.6 L43.4 521.1 L44.9 521.4 L46.4 521.3 L48.0 521.1 L49.5 520.7 L51.0 520.4 L52.6 519.8 L54.1 519.1 L55.6 518.5 L57.1 518.3 L58.7 518.8 L60.2 519.8 L61.7 520.7 L63.3 521.0 L64.8 520.3 L66.3 519.1 L67.9 517.7 L69.4 516.3 L70.9 515.0 L72.4 513.6 L74.0 512.3 L75.5 511.2 L77.0 510.3 L78.6 509.7 L80.1 509.0 L81.6 508.1 L83.2 507.0 L84.7 505.7 L86.2 504.3 L87.8 503.0 L89.3 501.7 L90.8 500.4 L92.3 499.2 L93.9 498.5 L95.5 498.4 L97.1 498.8 L98.6 499.3 L100.0 500.0 L101.1 500.8 L102.1 502.0 L103.0 502.9 L104.1 503.0 L105.3 502.2 L106.6 500.6 L107.9 498.7 L109.2 496.9 L110.5 495.0 L111.8 493.0 L113.1 491.1 L114.3 489.8 L115.4 489.1 L116.4 489.1 L117.4 489.1 L118.4 488.7 L119.4 488.0 L120.4 486.9 L121.4 485.8 L122.4 484.7 L123.5 483.4 L124.5 481.9 L125.5 480.6 L126.5 479.6 L127.6 478.9 L128.6 478.4 L129.6 478.2 L130.6 478.1 L131.6 478.2 L132.7 478.6 L133.7 479.0 L134.7 479.6 L135.7 480.2 L136.7 480.9 L137.8 481.7 L138.8 482.6 L139.8 483.8 L140.8 485.1 L141.8 486.5 L142.9 487.7 L143.9 488.8 L144.9 489.9 L145.9 490.9 L146.9 491.8 L147.9 492.7 L148.9 493.5 L149.9 494.2 L151.0 494.4 L152.4 494.1 L154.0 493.4 L155.6 492.5 L157.1 491.8 L158.7 491.5 L160.3 491.3 L161.8 491.1 L163.3 490.8 L164.6 490.0 L165.9 488.9 L167.1 488.0 L168.4 487.7 L169.6 488.4 L170.9 489.6 L172.1 491.2 L173.5 492.8 L174.9 494.5 L176.5 496.5 L178.0 498.3 L179.6 500.0 L181.1 501.3 L182.5 502.4 L184.0 503.3 L185.7 504.0 L187.6 504.6 L189.7 504.9 L191.9 505.2 L193.9 505.5 L195.8 506.0 L197.6 506.6 L199.4 507.0 L201.0 507.1 L202.4 506.7 L203.6 505.9 L204.8 505.0 L206.1 504.0 L207.6 503.0 L209.2 501.7 L210.8 500.6 L212.2 500.0 L213.4 499.7 L214.4 499.8 L215.4 500.2 L216.3 501.0 L217.3 502.2 L218.2 503.8 L219.2 505.5 L220.4 507.1 L221.8 508.5 L223.3 509.9 L225.0 511.1 L226.5 512.2 L228.0 513.1 L229.5 514.0 L231.0 514.6 L232.7 514.9 L234.5 514.8 L236.4 514.4 L238.3 513.8 L240.0 513.2 L241.4 512.6 L242.7 511.8 L243.9 511.0 L245.1 510.2 L246.4 509.0 L247.7 507.6 L249.0 506.5 L250.2 506.1 L251.2 506.7 L252.2 507.9 L253.1 509.5 L254.3 511.2 L255.7 512.9 L257.2 514.9 L258.8 516.8 L260.4 518.3 L261.9 519.4 L263.3 520.3 L264.9 520.9 L266.5 521.4 L268.5 521.7 L270.6 521.8 L272.7 521.8 L274.7 521.8 L276.4 521.6 L277.9 521.3 L279.3 521.1 L280.8 521.0 L282.4 521.2 L283.9 521.5 L285.5 522.0 L286.9 522.4 L288.3 522.7 L289.6 523.0 L290.8 523.5 L292.0 524.4 L293.3 526.1 L294.7 528.3 L295.9 530.6 L297.1 532.6 L298.2 534.3 L299.1 535.9 L300.1 537.3 L301.2 538.7 L302.6 540.1 L304.2 541.3 L305.8 542.5 L307.3 543.8 L308.9 545.4 L310.4 547.0 L311.9 548.6 L313.5 550.0 L315.0 551.2 L316.5 552.3 L318.1 553.2 L319.6 553.6 L321.1 553.5 L322.7 552.9 L324.3 552.2 L325.7 551.6 L327.1 551.2 L328.4 551.0 L329.6 550.6 L330.8 550.0 L331.9 549.0 L332.9 547.9 L333.8 546.5 L334.9 544.9 L336.1 542.8 L337.3 540.4 L338.6 537.9 L340.0 535.7 L341.5 533.7 L343.0 531.9 L344.6 530.2 L346.1 528.5 L347.7 526.9 L349.2 525.3 L350.7 523.8 L352.2 522.4 L353.8 521.0 L355.4 519.6 L357.0 518.3 L358.4 517.3 L359.5 516.6 L360.5 516.1 L361.4 515.8 L362.4 515.7 L363.7 515.8 L364.9 516.1 L366.3 516.5 L367.6 516.9 L368.8 517.4 L370.0 518.1 L371.3 518.7 L372.7 518.9 L374.1 518.8 L375.7 518.5 L377.2 518.0 L378.8 517.3 L380.3 516.5 L381.8 515.5 L383.4 514.4 L384.9 513.2 L386.4 512.1 L388.0 511.0 L389.5 509.7 L391.0 508.1 L392.6 506.1 L394.1 503.7 L395.6 501.3 L397.1 498.9 L398.7 496.7 L400.3 494.4 L401.9 492.4 L403.3 490.8 L404.4 489.7 L405.4 489.1 L406.3 488.7 L407.3 488.3 L408.6 488.0 L410.0 487.8 L411.3 487.7 L412.4 487.7 L413.3 487.9 L414.0 488.2 L414.7 488.4 L415.5 488.3 L416.4 487.7 L417.4 486.8 L418.4 485.8 L419.6 484.7 L421.0 483.5 L422.5 482.1 L424.1 480.8 L425.7 479.6 L427.2 478.5 L428.8 477.6 L430.3 476.6 L431.8 475.5 L433.4 474.1 L434.9 472.5 L436.4 470.9 L438.0 469.3 L439.5 467.7 L441.1 466.1 L442.7 464.5 L444.1 463.2 L445.2 462.2 L446.2 461.5 L447.1 460.9 L448.2 460.6 L449.4 460.5 L450.8 460.7 L452.1 461.0 L453.3 461.2 L454.2 461.2 L454.9 461.2 L455.5 461.4 L456.3 461.8 L457.3 462.6 L458.3 463.8 L459.4 465.0 L460.4 466.3 L461.4 467.4 L462.3 468.5 L463.3 469.8 L464.5 471.4 L465.9 473.3 L467.4 475.6 L469.0 478.0 L470.6 480.6 L472.2 483.4 L473.9 486.5 L475.4 489.4 L476.7 491.8 L477.7 493.2 L478.5 494.0 L479.2 494.7 L480.0 495.9 L481.0 497.9 L482.0 500.3 L483.0 502.8 L484.1 505.1 L485.1 507.1 L486.1 509.0 L487.1 510.8 L488.2 512.2 L489.2 513.3 L490.2 514.2 L491.2 514.8 L492.2 515.3 L493.3 515.5 L494.3 515.4 L495.3 515.3 L496.3 515.7 L497.3 516.5 L498.2 517.7 L499.2 519.1 L500.4 520.4 L501.8 521.6 L503.3 523.0 L504.9 524.3 L506.5 525.5 L508.2 526.6 L510.0 527.8 L511.9 528.8 L513.7 529.6 L515.5 529.9 L517.3 530.0 L519.1 530.1 L520.8 530.2 L522.4 530.4 L523.9 530.8 L525.4 531.1 L526.9 531.2 L528.5 531.1 L530.0 530.9 L531.5 530.5 L533.1 530.0 L534.6 529.2 L536.1 528.2 L537.7 527.2 L539.2 526.5 L540.7 526.0 L542.2 525.7 L543.8 525.5 L545.3 525.5 L546.8 525.6 L548.3 525.8 L549.8 526.2 L551.4 526.5 L553.1 526.9 L554.9 527.4 L556.8 527.8 L558.6 527.9 L560.4 527.8 L562.2 527.4 L564.0 527.0 L565.7 526.5 L567.3 526.1 L568.8 525.6 L570.3 525.1 L571.8 524.4 L573.4 523.6 L574.9 522.6 L576.4 521.5 L578.0 520.4 L579.5 519.1 L581.1 517.7 L582.6 516.3 L584.1 515.3 L585.4 514.5 L586.7 513.9 L587.9 513.5 L589.2 513.2 L590.4 513.2 L591.7 513.4 L592.9 513.6 L594.3 513.6 L595.7 513.6 L597.3 513.5 L598.9 513.2 L600.4 512.8 L601.9 512.1 L603.5 511.2 L605.0 510.2 L606.5 509.1 L608.1 508.0 L609.6 506.7 L611.1 505.3 L612.7 504.0 L614.2 502.8 L615.7 501.6 L617.2 500.4 L618.8 499.3 L620.4 498.3 L622.0 497.4 L623.5 496.5 L624.9 495.9 L626.1 495.5 L627.1 495.3 L628.0 495.2 L629.0 495.3 L630.0 495.4 L630.9 495.7 L631.9 496.2 L633.1 496.9 L634.4 497.9 L636.0 499.2 L637.6 500.6 L639.2 502.0 L640.7 503.3 L642.2 504.6 L643.8 505.9 L645.3 507.1 L646.8 508.2 L648.4 509.2 L649.9 510.2 L651.4 511.2 L652.9 512.3 L654.4 513.4 L655.9 514.4 L657.6 515.3 L659.4 515.9 L661.5 516.4 L663.6 516.7 L665.7 516.9 L667.8 516.8 L669.9 516.5 L671.9 516.1 L673.9 515.7 L675.7 515.3 L677.5 514.8 L679.3 514.4 L681.0 514.2 L682.8 514.3 L684.5 514.5 L686.3 514.9 L688.2 515.3 L690.2 515.7 L692.5 516.3 L694.6 516.8 L696.3 517.3 L697.5 517.6 L698.3 517.8 L699.0 518.0 L700.0 518.3 L701.4 518.8 L702.9 519.4 L704.5 520.0 L706.1 520.4 L707.6 520.4 L709.1 520.3 L710.6 520.1 L712.2 519.8 L714.1 519.4 L716.2 519.0 L718.3 518.5 L720.4 517.7 L722.4 516.5 L724.5 514.9 L726.5 513.3 L728.6 512.2 L730.7 511.7 L732.8 511.5 L734.8 511.5 L736.7 511.6 L738.4 511.6 L740.0 511.5 L741.4 511.7 L742.9 512.2 L744.2 513.2 L745.3 514.5 L746.6 516.0 L748.0 517.3 L749.5 518.4 L751.2 519.3 L753.1 520.3 L755.1 521.4 L757.5 522.9 L760.1 524.6 L762.8 526.1 L765.3 527.1 L767.5 527.3 L769.5 526.9 L771.5 526.3 L773.5 525.9 L775.6 525.7 L777.7 525.5 L779.7 525.4 L781.6 525.5 L783.3 525.8 L784.8 526.4 L786.3 527.0 L787.8 527.5 L789.3 528.0 L790.8 528.4 L792.3 528.8 L793.9 529.1 L795.4 529.4 L796.8 529.6 L798.3 529.8 L800.0 530.2 L801.9 530.9 L804.1 531.8 L806.2 532.7 L808.2 533.2 L809.8 533.2 L811.2 532.9 L812.7 532.5 L814.3 532.0 L816.2 531.5 L818.4 530.9 L820.5 530.4 L822.4 530.0 L824.1 529.9 L825.6 529.9 L827.1 529.9 L828.6 529.6 L830.1 528.6 L831.7 527.4 L833.2 525.9 L834.7 524.4 L836.0 522.9 L837.2 521.2 L838.5 519.6 L839.8 518.3 L841.3 517.3 L842.9 516.5 L844.4 516.0 L845.9 515.7 L847.3 515.8 L848.5 516.2 L849.8 516.8 L851.0 517.3 L852.2 517.8 L853.4 518.4 L854.7 518.9 L856.1 519.3 L857.8 519.6 L859.6 519.7 L861.5 519.8 L863.3 519.8 L864.9 519.6 L866.5 519.4 L868.0 519.2 L869.4 518.9 L870.8 518.6 L872.1 518.2 L873.4 517.9 L874.5 517.7 L875.4 517.7 L876.1 517.7 L876.8 517.9 L877.6 518.3 L878.3 519.0 L879.0 519.9 L879.7 520.9 L880.6 521.8 L881.8 522.5 L883.1 523.2 L884.4 523.8 L885.7 524.4 L887.0 525.2 L888.4 525.9 L889.6 526.6 L890.4 527.1" stroke="#2962ff" stroke-width="1.2" fill="none" stroke-linejoin="round"/>
<path d="M44.5 526.5 L46.0 525.9 L48.1 525.1 L50.6 524.2 L53.1 523.4 L55.5 523.0 L58.2 522.6 L60.8 522.3 L63.3 521.8 L65.4 521.1 L67.3 520.3 L69.3 519.4 L71.4 518.3 L73.9 517.2 L76.5 515.9 L79.2 514.5 L81.6 513.2 L83.8 511.9 L85.8 510.6 L87.8 509.3 L89.8 508.1 L91.8 507.1 L93.9 506.1 L95.9 505.3 L98.0 504.7 L100.0 504.3 L102.0 504.2 L104.1 504.0 L106.1 503.4 L108.2 502.4 L110.2 501.0 L112.2 499.4 L114.3 497.9 L116.3 496.4 L118.4 494.9 L120.4 493.3 L122.4 491.8 L124.6 490.3 L126.7 488.8 L128.8 487.4 L130.6 486.3 L132.1 485.6 L133.4 485.1 L134.5 484.9 L135.7 484.7 L137.0 484.5 L138.2 484.4 L139.5 484.4 L140.8 484.7 L142.2 485.1 L143.7 485.7 L145.2 486.4 L146.9 487.1 L148.8 487.8 L150.9 488.5 L153.0 489.2 L155.1 489.8 L157.1 490.1 L159.2 490.3 L161.2 490.3 L163.3 490.4 L165.3 490.2 L167.3 489.8 L169.4 489.6 L171.4 489.8 L173.5 490.4 L175.5 491.5 L177.6 492.7 L179.6 493.8 L181.6 495.0 L183.7 496.3 L185.7 497.5 L187.8 498.5 L189.8 499.3 L191.8 499.9 L193.9 500.4 L195.9 501.0 L198.0 501.6 L200.0 502.2 L202.0 502.7 L204.1 503.0 L206.1 503.1 L208.2 502.9 L210.2 502.7 L212.2 502.6 L214.3 502.5 L216.3 502.3 L218.4 502.3 L220.4 502.6 L222.4 503.3 L224.5 504.4 L226.5 505.6 L228.6 506.7 L230.7 507.8 L233.0 509.0 L235.0 510.0 L236.7 510.8 L237.8 511.2 L238.5 511.3 L239.1 511.3 L240.0 511.2 L241.3 511.0 L242.9 510.8 L244.5 510.5 L246.1 510.2 L247.7 509.8 L249.2 509.4 L250.7 509.2 L252.2 509.1 L253.7 509.5 L255.2 510.0 L256.7 510.8 L258.4 511.6 L260.3 512.5 L262.3 513.6 L264.4 514.7 L266.5 515.7 L268.6 516.5 L270.6 517.2 L272.7 517.8 L274.7 518.3 L276.7 518.8 L278.8 519.1 L280.8 519.4 L282.9 519.8 L284.9 520.0 L286.9 520.3 L289.0 520.7 L291.0 521.4 L293.1 522.6 L295.1 524.1 L297.1 525.8 L299.2 527.5 L301.2 529.2 L303.3 531.0 L305.3 532.9 L307.3 534.7 L309.4 536.4 L311.4 538.2 L313.5 539.9 L315.5 541.4 L317.6 542.7 L319.7 544.0 L321.8 545.0 L323.7 545.9 L325.4 546.5 L327.0 547.0 L328.5 547.3 L329.8 547.5 L330.9 547.7 L331.8 547.8 L332.8 547.7 L333.9 547.5 L335.3 547.1 L336.8 546.5 L338.4 545.8 L340.0 544.9 L341.5 543.8 L343.1 542.5 L344.6 541.2 L346.1 539.8 L347.7 538.3 L349.2 536.8 L350.7 535.2 L352.2 533.6 L353.8 532.1 L355.3 530.4 L356.8 528.9 L358.4 527.5 L359.9 526.3 L361.3 525.2 L362.8 524.3 L364.5 523.4 L366.4 522.7 L368.4 522.1 L370.6 521.5 L372.7 521.0 L374.7 520.6 L376.7 520.3 L378.8 519.9 L380.8 519.3 L382.9 518.5 L384.9 517.6 L386.9 516.5 L389.0 515.3 L391.1 513.9 L393.2 512.3 L395.2 510.7 L397.1 509.1 L398.8 507.6 L400.3 506.0 L401.8 504.5 L403.3 503.0 L404.7 501.7 L406.2 500.4 L407.7 499.2 L409.4 497.9 L411.3 496.6 L413.3 495.4 L415.5 494.1 L417.6 492.8 L419.6 491.5 L421.6 490.3 L423.7 489.0 L425.7 487.7 L427.8 486.5 L429.8 485.3 L431.8 484.0 L433.9 482.6 L436.0 480.9 L438.1 479.0 L440.1 477.1 L442.0 475.5 L443.7 474.1 L445.2 472.9 L446.7 471.8 L448.2 470.8 L449.7 469.8 L451.2 468.8 L452.8 468.0 L454.3 467.3 L455.8 466.8 L457.3 466.5 L458.9 466.3 L460.4 466.3 L461.9 466.5 L463.5 466.9 L465.0 467.5 L466.5 468.3 L468.1 469.3 L469.6 470.6 L471.1 472.0 L472.7 473.4 L474.3 475.1 L476.0 477.0 L477.6 478.8 L478.8 480.2 L479.3 480.7 L479.4 480.7 L479.5 480.8 L480.0 481.6 L481.2 483.3 L482.8 485.7 L484.5 488.3 L486.1 490.8 L487.6 493.1 L489.1 495.4 L490.6 497.7 L492.2 500.0 L494.1 502.3 L496.2 504.6 L498.3 506.9 L500.4 509.1 L502.4 511.3 L504.5 513.5 L506.5 515.5 L508.6 517.3 L510.6 518.8 L512.7 520.2 L514.7 521.3 L516.7 522.4 L518.8 523.4 L520.8 524.4 L522.9 525.2 L524.9 525.9 L526.9 526.5 L529.0 526.9 L531.0 527.3 L533.1 527.5 L535.1 527.6 L537.1 527.4 L539.2 527.3 L541.2 527.1 L543.3 526.9 L545.3 526.7 L547.3 526.6 L549.4 526.5 L551.4 526.6 L553.5 526.8 L555.5 527.0 L557.6 527.1 L559.6 527.2 L561.6 527.2 L563.7 527.2 L565.7 527.1 L567.8 526.9 L569.8 526.7 L571.8 526.4 L573.9 525.9 L575.9 525.2 L578.0 524.3 L580.0 523.3 L582.0 522.4 L584.1 521.5 L586.1 520.6 L588.2 519.7 L590.2 518.9 L592.2 518.3 L594.3 517.9 L596.3 517.4 L598.4 516.9 L600.4 516.3 L602.4 515.7 L604.5 515.0 L606.5 514.2 L608.6 513.3 L610.6 512.4 L612.7 511.3 L614.7 510.2 L616.7 508.9 L618.8 507.6 L620.8 506.3 L622.9 505.1 L624.9 504.0 L627.1 503.0 L629.1 502.1 L631.0 501.4 L632.7 501.0 L634.2 500.7 L635.7 500.6 L637.1 500.6 L638.7 500.5 L640.2 500.6 L641.7 500.7 L643.3 501.0 L644.8 501.4 L646.3 502.0 L647.9 502.7 L649.4 503.4 L650.9 504.3 L652.3 505.2 L653.8 506.2 L655.5 507.1 L657.4 508.1 L659.5 509.0 L661.6 510.0 L663.7 510.8 L665.7 511.4 L667.8 512.0 L669.8 512.4 L671.8 512.8 L673.9 513.1 L675.9 513.3 L678.0 513.5 L680.0 513.6 L682.0 513.8 L684.1 513.9 L686.1 514.0 L688.2 514.2 L690.3 514.6 L692.5 515.0 L694.6 515.4 L696.3 515.7 L697.5 515.9 L698.2 515.9 L698.9 516.1 L700.0 516.3 L701.7 516.7 L703.8 517.3 L706.0 517.9 L708.2 518.3 L710.2 518.5 L712.2 518.5 L714.3 518.5 L716.3 518.3 L718.4 518.1 L720.4 517.7 L722.4 517.3 L724.5 516.9 L726.5 516.4 L728.6 515.9 L730.6 515.3 L732.7 514.9 L734.7 514.5 L736.9 514.1 L738.9 513.8 L740.8 513.6 L742.5 513.6 L744.0 513.7 L745.5 513.9 L746.9 514.2 L748.4 514.6 L749.9 515.0 L751.4 515.6 L753.1 516.3 L755.0 517.2 L757.0 518.3 L759.1 519.4 L761.2 520.4 L763.3 521.3 L765.3 522.1 L767.3 522.8 L769.4 523.4 L771.4 523.8 L773.5 524.0 L775.5 524.2 L777.6 524.4 L779.6 524.8 L781.6 525.1 L783.7 525.5 L785.7 525.9 L787.8 526.3 L789.8 526.7 L791.8 527.1 L793.9 527.5 L795.9 527.9 L798.0 528.3 L800.0 528.7 L802.0 529.1 L804.1 529.5 L806.1 529.9 L808.2 530.3 L810.2 530.6 L812.2 530.8 L814.3 531.0 L816.3 531.1 L818.4 531.2 L820.4 531.3 L822.4 531.3 L824.5 531.3 L826.5 531.2 L828.6 530.9 L830.6 530.5 L832.7 529.9 L834.7 529.1 L836.7 528.1 L838.8 526.9 L840.8 525.6 L842.9 524.4 L844.9 523.5 L846.9 522.7 L849.0 522.0 L851.0 521.4 L853.1 521.0 L855.1 520.7 L857.1 520.5 L859.2 520.4 L861.2 520.2 L863.3 520.0 L865.3 519.9 L867.3 519.8 L869.4 519.6 L871.6 519.5 L873.6 519.4 L875.5 519.3 L877.2 519.4 L878.8 519.4 L880.2 519.5 L881.6 519.8 L883.0 520.1 L884.3 520.5 L885.6 521.0 L886.7 521.4 L887.8 521.8 L888.9 522.3 L889.8 522.7 L890.4 523.0" stroke="#ff6d00" stroke-width="1.2" fill="none" stroke-linejoin="round"/>
<rect x="5" y="8" width="156" height="65" fill="#ffffff" opacity="0.45"/>
<rect x="5" y="73" width="101" height="100" fill="#ffffff" opacity="0.5"/>
<rect x="4" y="378" width="150" height="18" fill="#ffffff" opacity="0.5"/>
<path d="M968.1 193L918.8 293" stroke="#14501a" stroke-width="2.1" fill="none"/>
<path d="M911.8 288.7L927 295.5L912.6 307.4Z" fill="#3a0000" stroke="#14501a" stroke-width="1.3" stroke-linejoin="round"/>
<path d="M605.7 368.5L756 357.5" stroke="#14501a" stroke-width="2.1" fill="none"/>
<path d="M752.4 349.6L769 355.4L753 365Z" fill="#3a0000" stroke="#14501a" stroke-width="1.3" stroke-linejoin="round"/>
<path d="M605.7 389.5L817 431.2" stroke="#14501a" stroke-width="2.1" fill="none"/>
<path d="M814.4 423.6L830 433.6L813 439Z" fill="#3a0000" stroke="#14501a" stroke-width="1.3" stroke-linejoin="round"/>
<path d="M605.7 407.8L759 474.6" stroke="#14501a" stroke-width="2.1" fill="none"/>
<path d="M759.6 466.3L771.4 480.2L753 480.6Z" fill="#3a0000" stroke="#14501a" stroke-width="1.3" stroke-linejoin="round"/>
<rect x="896.5" y="89.2" width="194.5" height="103.5" rx="3.5" fill="#ffffff" stroke="#14501a" stroke-width="2"/>
<text x="903" y="110.6" font-size="21.1" fill="#14501a">GO set up to fall</text>
<text x="903" y="135.0" font-size="21.1" fill="#14501a">after weakened</text>
<text x="903" y="159.4" font-size="21.1" fill="#14501a">guidance rattled</text>
<text x="903" y="183.8" font-size="21.1" fill="#14501a">investor confidence</text>
<rect x="459.8" y="324.6" width="146.3" height="102.2" rx="3.5" fill="#ffffff" stroke="#14501a" stroke-width="2"/>
<text x="466.6" y="345.7" font-size="21.1" fill="#14501a">Volume rises,</text>
<text x="466.6" y="369.9" font-size="21.1" fill="#14501a">indicators are</text>
<text x="466.6" y="394.2" font-size="21.1" fill="#14501a">oversold and</text>
<text x="466.6" y="418.4" font-size="21.1" fill="#14501a">divergent</text>
<rect x="1143.0" y="0" width="57.0" height="588" fill="#ffffff"/>
<path d="M1143.0 369.5H1200M1143.0 454H1200" stroke="#e0e3eb" stroke-width="1.6" fill="none"/>
<path d="M1143.0 0V588" stroke="#707070" stroke-width="1.5" fill="none"/>
<path d="M0 560.3H1200" stroke="#666" stroke-width="1.3" fill="none"/>
<text x="1151.8" y="65.1" font-size="11" fill="#555a60" textLength="27.8" lengthAdjust="spacingAndGlyphs">44.00</text>
<text x="1151.8" y="99.4" font-size="11" fill="#555a60" textLength="27.8" lengthAdjust="spacingAndGlyphs">40.00</text>
<text x="1151.8" y="133.6" font-size="11" fill="#555a60" textLength="27.8" lengthAdjust="spacingAndGlyphs">36.00</text>
<text x="1151.8" y="167.8" font-size="11" fill="#555a60" textLength="27.8" lengthAdjust="spacingAndGlyphs">32.00</text>
<text x="1151.8" y="202.1" font-size="11" fill="#555a60" textLength="27.8" lengthAdjust="spacingAndGlyphs">28.00</text>
<text x="1151.8" y="236.3" font-size="11" fill="#555a60" textLength="27.8" lengthAdjust="spacingAndGlyphs">24.00</text>
<text x="1151.8" y="270.6" font-size="11" fill="#555a60" textLength="27.8" lengthAdjust="spacingAndGlyphs">20.00</text>
<text x="1151.8" y="304.8" font-size="11" fill="#555a60" textLength="27.8" lengthAdjust="spacingAndGlyphs">16.00</text>
<text x="1151.8" y="339.1" font-size="11" fill="#555a60" textLength="27.8" lengthAdjust="spacingAndGlyphs">12.00</text>
<text x="1151.8" y="392.7" font-size="11" fill="#555a60" textLength="27.8" lengthAdjust="spacingAndGlyphs">80.00</text>
<text x="1151.8" y="452.7" font-size="11" fill="#555a60" textLength="22" lengthAdjust="spacingAndGlyphs">0.00</text>
<text x="1151.8" y="481.5" font-size="11" fill="#555a60" textLength="22" lengthAdjust="spacingAndGlyphs">2.50</text>
<text x="1151.8" y="511.1" font-size="11" fill="#555a60" textLength="33.5" lengthAdjust="spacingAndGlyphs">0.0000</text>
<clipPath id="c1"><rect x="1143" y="35.7" width="60" height="10"/></clipPath>
<g clip-path="url(#c1)">
<path d="M1143.0 25.9H1182.5a2 2 0 0 1 2 2V38.9a2 2 0 0 1 -2 2H1143.0Z" fill="#1010f5"/>
<text x="1152.4" y="37.5" font-size="11.6" font-weight="bold" fill="#ffffff" textLength="28" lengthAdjust="spacingAndGlyphs">47.33</text>
</g>
<path d="M1143.0 107.2H1182.0a2 2 0 0 1 2 2V120.2a2 2 0 0 1 -2 2H1143.0Z" fill="#1010f5"/>
<text x="1152.4" y="118.8" font-size="11.6" font-weight="bold" fill="#ffffff" textLength="28" lengthAdjust="spacingAndGlyphs">37.78</text>
<path d="M1143.0 218H1182.0a2 2 0 0 1 2 2V231a2 2 0 0 1 -2 2H1143.0Z" fill="#089981"/>
<text x="1152.4" y="229.6" font-size="11.6" font-weight="bold" fill="#ffffff" textLength="28" lengthAdjust="spacingAndGlyphs">24.79</text>
<path d="M1143.0 287.8H1182.0a2 2 0 0 1 2 2V300.8a2 2 0 0 1 -2 2H1143.0Z" fill="#673ab7"/>
<text x="1152.4" y="299.4" font-size="11.6" font-weight="bold" fill="#ffffff" textLength="28" lengthAdjust="spacingAndGlyphs">16.63</text>
<path d="M1143.0 309.8H1182.0a2 2 0 0 1 2 2V322.8a2 2 0 0 1 -2 2H1143.0Z" fill="#2962ff"/>
<text x="1152.4" y="321.4" font-size="11.6" font-weight="bold" fill="#ffffff" textLength="28" lengthAdjust="spacingAndGlyphs">13.32</text>
<path d="M1121.8 325.6H1142.8V340.6H1121.8a2 2 0 0 1 -2 -2V327.6a2 2 0 0 1 2 -2Z" fill="#5b9a78"/>
<text x="1123.9" y="337.2" font-size="11.6" fill="#ffffff" textLength="14.9" lengthAdjust="spacingAndGlyphs">GO</text>
<path d="M1143.0 325.6H1182.0a2 2 0 0 1 2 2V338.6a2 2 0 0 1 -2 2H1143.0Z" fill="#5b9a78"/>
<text x="1152.4" y="337.2" font-size="11.6" font-weight="normal" fill="#cfe6d8" textLength="28" lengthAdjust="spacingAndGlyphs">4d 7h</text>
<path d="M1143.0 353.5H1189.7a2 2 0 0 1 2 2V366.5a2 2 0 0 1 -2 2H1143.0Z" fill="#26a69a"/>
<text x="1152.4" y="365.1" font-size="11.6" font-weight="bold" fill="#ffffff" textLength="36.8" lengthAdjust="spacingAndGlyphs">22.36&#8201;K</text>
<path d="M1143.0 408.6H1182.0a2 2 0 0 1 2 2V421.6a2 2 0 0 1 -2 2H1143.0Z" fill="#ff6d00"/>
<text x="1152.4" y="420.2" font-size="11.6" font-weight="bold" fill="#ffffff" textLength="28" lengthAdjust="spacingAndGlyphs">22.28</text>
<path d="M1143.0 424H1182.0a2 2 0 0 1 2 2V437a2 2 0 0 1 -2 2H1143.0Z" fill="#2962ff"/>
<text x="1152.4" y="435.6" font-size="11.6" font-weight="bold" fill="#ffffff" textLength="28" lengthAdjust="spacingAndGlyphs">22.28</text>
<path d="M1143.0 503.7H1193.5a2 2 0 0 1 2 2V516.7a2 2 0 0 1 -2 2H1143.0Z" fill="#f7525f"/>
<text x="1152.4" y="515.3" font-size="11.6" font-weight="bold" fill="#ffffff" textLength="39.8" lengthAdjust="spacingAndGlyphs">&#8722;0.3519</text>
<path d="M1143.0 520H1182.0a2 2 0 0 1 2 2V533a2 2 0 0 1 -2 2H1143.0Z" fill="#ff6d00"/>
<text x="1152.4" y="531.6" font-size="11.6" font-weight="bold" fill="#ffffff" textLength="28" lengthAdjust="spacingAndGlyphs">&#8722;1.34</text>
<path d="M1143.0 536H1182.0a2 2 0 0 1 2 2V549a2 2 0 0 1 -2 2H1143.0Z" fill="#2962ff"/>
<text x="1152.4" y="547.6" font-size="11.6" font-weight="bold" fill="#ffffff" textLength="28" lengthAdjust="spacingAndGlyphs">&#8722;1.69</text>
<rect x="1147.5" y="6.5" width="48" height="24.5" rx="4" fill="#ffffff" stroke="#ebebeb" stroke-width="1"/>
<text x="1150.4" y="24.0" font-size="11.6" fill="#131722" textLength="20.6" lengthAdjust="spacingAndGlyphs">USD</text>
<path d="M1185.6 17.6l2.4 2.4l2.4 -2.4" stroke="#131722" stroke-width="1.3" fill="none"/>
<text x="32.0" y="578.2" font-size="11.7" font-weight="bold" fill="#3a3d45" text-anchor="middle">2020</text>
<text x="114.4" y="578.2" font-size="11.7" font-weight="normal" fill="#3a3d45" text-anchor="middle">Jul</text>
<text x="196.9" y="578.2" font-size="11.7" font-weight="bold" fill="#3a3d45" text-anchor="middle">2021</text>
<text x="279.1" y="578.2" font-size="11.7" font-weight="normal" fill="#3a3d45" text-anchor="middle">Jul</text>
<text x="361.4" y="578.2" font-size="11.7" font-weight="bold" fill="#3a3d45" text-anchor="middle">2022</text>
<text x="443.9" y="578.2" font-size="11.7" font-weight="normal" fill="#3a3d45" text-anchor="middle">Jul</text>
<text x="526.5" y="578.2" font-size="11.7" font-weight="bold" fill="#3a3d45" text-anchor="middle">2023</text>
<text x="609.0" y="578.2" font-size="11.7" font-weight="normal" fill="#3a3d45" text-anchor="middle">Jul</text>
<text x="691.3" y="578.2" font-size="11.7" font-weight="bold" fill="#3a3d45" text-anchor="middle">2024</text>
<text x="773.7" y="578.2" font-size="11.7" font-weight="normal" fill="#3a3d45" text-anchor="middle">Jul</text>
<text x="859.1" y="578.2" font-size="11.7" font-weight="bold" fill="#3a3d45" text-anchor="middle">2025</text>
<text x="941.4" y="578.2" font-size="11.7" font-weight="normal" fill="#3a3d45" text-anchor="middle">Jul</text>
<text x="1023.6" y="578.2" font-size="11.7" font-weight="bold" fill="#3a3d45" text-anchor="middle">2026</text>
<text x="1106.0" y="578.2" font-size="11.7" font-weight="normal" fill="#3a3d45" text-anchor="middle">Jul</text>
<polygon points="1179.0,574.5 1175.4,580.7 1168.2,580.7 1164.6,574.5 1168.2,568.3 1175.4,568.3" fill="none" stroke="#131722" stroke-width="1.3" stroke-linejoin="round"/>
<circle cx="1171.8" cy="574.5" r="2.2" fill="none" stroke="#131722" stroke-width="1.3"/>
<circle cx="19.5" cy="18" r="9.4" fill="#b0132b"/>
<text x="13.2" y="21.6" font-size="10.4" fill="#ffffff" textLength="13" lengthAdjust="spacingAndGlyphs" font-weight="bold">GO</text>
<text x="33" y="24.0" font-size="14.6" fill="#42454d" textLength="21.5" lengthAdjust="spacingAndGlyphs">GO</text>
<path d="M79 9H90.5V27H79a9 9 0 0 1 0 -18Z" fill="#daf1ec"/>
<path d="M90.5 9H102a9 9 0 0 1 0 18H90.5Z" fill="#fadfe8"/>
<circle cx="81.5" cy="18" r="4.5" fill="#089981"/>
<path d="M95.8 16.6c1.6 -2 3.2 -2 4.8 -0.6s3.2 1.4 4.6 -0.6M95.8 20.8c1.6 -2 3.2 -2 4.8 -0.6s3.2 1.4 4.6 -0.6" stroke="#e0245e" stroke-width="1.5" fill="none" stroke-linecap="round"/>
<text x="128" y="22.8" font-size="12.3" fill="#50535e" textLength="8.2" lengthAdjust="spacingAndGlyphs">O</text>
<text x="138.7" y="22.8" font-size="12.3" fill="#2e6b47" textLength="31.3" lengthAdjust="spacingAndGlyphs">12.03</text>
<text x="177.5" y="22.8" font-size="12.3" fill="#50535e" textLength="8.0" lengthAdjust="spacingAndGlyphs">H</text>
<text x="188" y="22.8" font-size="12.3" fill="#2e6b47" textLength="31.3" lengthAdjust="spacingAndGlyphs">12.25</text>
<text x="226.3" y="22.8" font-size="12.3" fill="#50535e" textLength="6.2" lengthAdjust="spacingAndGlyphs">L</text>
<text x="234.2" y="22.8" font-size="12.3" fill="#2e6b47" textLength="31.5" lengthAdjust="spacingAndGlyphs">12.03</text>
<text x="273.3" y="22.8" font-size="12.3" fill="#50535e" textLength="7.2" lengthAdjust="spacingAndGlyphs">C</text>
<text x="283" y="22.8" font-size="12.3" fill="#2e6b47" textLength="31.2" lengthAdjust="spacingAndGlyphs">12.19</text>
<text x="321.7" y="22.8" font-size="12.3" fill="#2e6b47" textLength="30.3" lengthAdjust="spacingAndGlyphs">+0.20</text>
<text x="359.2" y="22.8" font-size="12.3" fill="#2e6b47" textLength="48.8" lengthAdjust="spacingAndGlyphs">(+1.63%)</text>
<text x="415.8" y="22.8" font-size="12.3" fill="#50535e" textLength="16" lengthAdjust="spacingAndGlyphs">Vol</text>
<text x="434.2" y="22.8" font-size="12.3" fill="#2e6b47" textLength="42.3" lengthAdjust="spacingAndGlyphs">22.36&#8201;K</text>
<rect x="9.5" y="35" width="55" height="34.5" rx="5" fill="#ffffff" stroke="#f7525f" stroke-width="1"/>
<text x="21.3" y="50.3" font-size="11.6" fill="#f23645" textLength="32.3" lengthAdjust="spacingAndGlyphs" font-weight="bold">12.15</text>
<text x="25.2" y="63.9" font-size="10.8" fill="#f23645" textLength="23.8" lengthAdjust="spacingAndGlyphs">SELL</text>
<text x="73.1" y="55.3" font-size="10.4" fill="#131722" textLength="19.6" lengthAdjust="spacingAndGlyphs">0.06</text>
<rect x="101.5" y="35" width="55" height="34.5" rx="5" fill="#ffffff" stroke="#5b84ff" stroke-width="1"/>
<text x="113.6" y="50.3" font-size="11.6" fill="#2962ff" textLength="31" lengthAdjust="spacingAndGlyphs" font-weight="bold">12.21</text>
<text x="118.7" y="63.9" font-size="10.8" fill="#2962ff" textLength="19.9" lengthAdjust="spacingAndGlyphs">BUY</text>
<text x="10.5" y="89.9" font-size="12" fill="#50535e" textLength="23.5" lengthAdjust="spacingAndGlyphs">EMA</text>
<circle cx="51.9" cy="85.80000000000001" r="8.5" fill="#e6dcfa"/>
<path d="M47.3 85.00000000000001A4.6 4.6 0 0 1 55.9 83.4" stroke="#6a2cf5" stroke-width="1.5" fill="none"/>
<path d="M56.5 86.60000000000001A4.6 4.6 0 0 1 47.9 88.20000000000002" stroke="#6a2cf5" stroke-width="1.5" fill="none"/>
<path d="M57.7 81.00000000000001V84.4H54.1Z" fill="#6a2cf5"/>
<path d="M46.099999999999994 90.60000000000001V87.20000000000002H49.699999999999996Z" fill="#6a2cf5"/>
<text x="70.2" y="89.9" font-size="12" fill="#2962ff" textLength="31.5" lengthAdjust="spacingAndGlyphs">13.32</text>
<text x="10.5" y="114.8" font-size="12" fill="#50535e" textLength="23.5" lengthAdjust="spacingAndGlyphs">EMA</text>
<circle cx="51.9" cy="110.7" r="8.5" fill="#e6dcfa"/>
<path d="M47.3 109.9A4.6 4.6 0 0 1 55.9 108.3" stroke="#6a2cf5" stroke-width="1.5" fill="none"/>
<path d="M56.5 111.5A4.6 4.6 0 0 1 47.9 113.10000000000001" stroke="#6a2cf5" stroke-width="1.5" fill="none"/>
<path d="M57.7 105.9V109.3H54.1Z" fill="#6a2cf5"/>
<path d="M46.099999999999994 115.5V112.10000000000001H49.699999999999996Z" fill="#6a2cf5"/>
<text x="70.2" y="114.8" font-size="12" fill="#673ab7" textLength="31.5" lengthAdjust="spacingAndGlyphs">16.63</text>
<text x="10.5" y="139.5" font-size="12" fill="#50535e" textLength="23.5" lengthAdjust="spacingAndGlyphs">EMA</text>
<circle cx="51.9" cy="135.4" r="8.5" fill="#e6dcfa"/>
<path d="M47.3 134.6A4.6 4.6 0 0 1 55.9 133.0" stroke="#6a2cf5" stroke-width="1.5" fill="none"/>
<path d="M56.5 136.20000000000002A4.6 4.6 0 0 1 47.9 137.8" stroke="#6a2cf5" stroke-width="1.5" fill="none"/>
<path d="M57.7 130.6V134.0H54.1Z" fill="#6a2cf5"/>
<path d="M46.099999999999994 140.20000000000002V136.8H49.699999999999996Z" fill="#6a2cf5"/>
<text x="70.2" y="139.5" font-size="12" fill="#089981" textLength="31.5" lengthAdjust="spacingAndGlyphs">24.79</text>
<text x="10.5" y="164.2" font-size="12" fill="#50535e" textLength="17" lengthAdjust="spacingAndGlyphs">Vol</text>
<text x="36.6" y="164.2" font-size="12" fill="#26a69a" textLength="42.4" lengthAdjust="spacingAndGlyphs">22.36&#8201;K</text>
<rect x="10.5" y="172" width="28.5" height="22" rx="3" fill="#ffffff" stroke="#e0e3eb" stroke-width="1"/>
<path d="M20.3 187l4.3 -4.3l4.3 4.3" stroke="#131722" stroke-width="1.4" fill="none"/>
<text x="10" y="390.5" font-size="12" fill="#50535e" textLength="32" lengthAdjust="spacingAndGlyphs">Stoch</text>
<circle cx="60" cy="386.2" r="8.5" fill="#e6dcfa"/>
<path d="M55.4 385.4A4.6 4.6 0 0 1 63.99999999999999 383.8" stroke="#6a2cf5" stroke-width="1.5" fill="none"/>
<path d="M64.6 387.0A4.6 4.6 0 0 1 56.0 388.59999999999997" stroke="#6a2cf5" stroke-width="1.5" fill="none"/>
<path d="M65.8 381.4V384.8H62.199999999999996Z" fill="#6a2cf5"/>
<path d="M54.199999999999996 391.0V387.59999999999997H57.8Z" fill="#6a2cf5"/>
<text x="78.4" y="390.5" font-size="12" fill="#2962ff" textLength="31.6" lengthAdjust="spacingAndGlyphs">22.28</text>
<text x="117.6" y="390.5" font-size="12" fill="#ff6d00" textLength="31.4" lengthAdjust="spacingAndGlyphs">22.28</text>
<text x="10.2" y="476.4" font-size="12" fill="#50535e" textLength="32.7" lengthAdjust="spacingAndGlyphs">MACD</text>
<circle cx="60.6" cy="471.8" r="8.5" fill="#e6dcfa"/>
<path d="M56.0 471.0A4.6 4.6 0 0 1 64.60000000000001 469.40000000000003" stroke="#6a2cf5" stroke-width="1.5" fill="none"/>
<path d="M65.2 472.6A4.6 4.6 0 0 1 56.6 474.2" stroke="#6a2cf5" stroke-width="1.5" fill="none"/>
<path d="M66.4 467.0V470.40000000000003H62.800000000000004Z" fill="#6a2cf5"/>
<path d="M54.8 476.6V473.2H58.4Z" fill="#6a2cf5"/>
<text x="79.2" y="476.4" font-size="12" fill="#f7525f" textLength="45.7" lengthAdjust="spacingAndGlyphs">&#8722;0.3519</text>
<text x="132.7" y="476.4" font-size="12" fill="#2962ff" textLength="31.2" lengthAdjust="spacingAndGlyphs">&#8722;1.69</text>
<text x="171.4" y="476.4" font-size="12" fill="#ff6d00" textLength="31.6" lengthAdjust="spacingAndGlyphs">&#8722;1.34</text>
<g fill="#111111">
<path d="M13 530.5H25.8V545.5H19.2V536.2H13Z"/>
<circle cx="30.5" cy="533.3" r="2.75"/>
<path d="M36.5 530.5H44L37.5 545.5H31Z"/>
<path d="M49 530.5H83.8L78 545.5H42.5Z"/>
</g>
<text x="52.8" y="541.9" font-size="10.6" font-weight="bold" fill="#ffffff" textLength="21.7" lengthAdjust="spacingAndGlyphs">PRO</text>
<path d="M0 0.5H1200M0.5 0V588M0 587.5H1200" stroke="#e4e4e4" stroke-width="1" fill="none"/>
</svg>
</body></html>
